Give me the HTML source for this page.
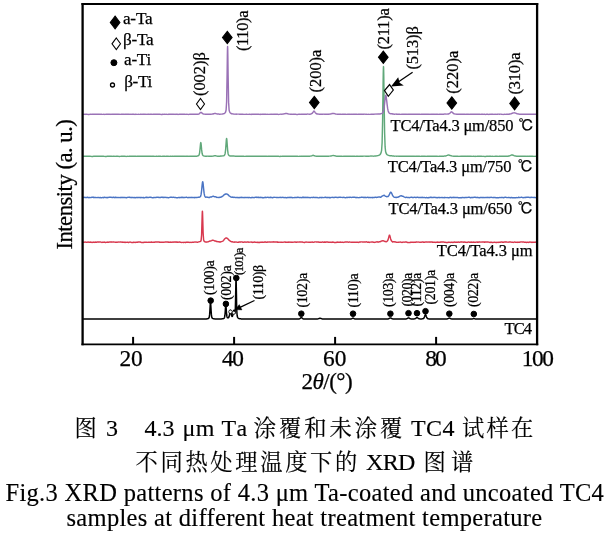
<!DOCTYPE html>
<html lang="zh"><head><meta charset="utf-8"><title>Fig.3 XRD patterns</title>
<style>
html,body{margin:0;padding:0;background:#fff;}
body{width:609px;height:535px;overflow:hidden;}
svg{display:block;}
text{font-family:"Liberation Serif","Noto Serif CJK SC",serif;fill:#000;stroke:#000;stroke-width:0.25px;}
</style></head><body>
<svg width="609" height="535" viewBox="0 0 609 535">
<rect x="0" y="0" width="609" height="535" fill="#fff"/>

<path d="M83.60 319.10 L83.85 319.10 L84.10 319.10 L84.35 319.10 L84.60 319.10 L84.85 319.10 L85.10 319.10 L85.35 319.10 L85.60 319.10 L85.85 319.10 L86.10 319.10 L86.35 319.10 L86.60 319.10 L86.85 319.10 L87.10 319.10 L87.35 319.10 L87.60 319.10 L87.85 319.10 L88.10 319.10 L88.35 319.10 L88.60 319.10 L88.85 319.10 L89.10 319.10 L89.35 319.10 L89.60 319.10 L89.85 319.10 L90.10 319.10 L90.35 319.10 L90.60 319.10 L90.85 319.10 L91.10 319.10 L91.35 319.10 L91.60 319.10 L91.85 319.10 L92.10 319.10 L92.35 319.10 L92.60 319.10 L92.85 319.10 L93.10 319.10 L93.35 319.10 L93.60 319.10 L93.85 319.10 L94.10 319.10 L94.35 319.10 L94.60 319.10 L94.85 319.10 L95.10 319.10 L95.35 319.10 L95.60 319.10 L95.85 319.10 L96.10 319.10 L96.35 319.10 L96.60 319.10 L96.85 319.10 L97.10 319.10 L97.35 319.10 L97.60 319.10 L97.85 319.10 L98.10 319.10 L98.35 319.10 L98.60 319.10 L98.85 319.10 L99.10 319.10 L99.35 319.10 L99.60 319.10 L99.85 319.10 L100.10 319.10 L100.35 319.10 L100.60 319.10 L100.85 319.10 L101.10 319.10 L101.35 319.10 L101.60 319.10 L101.85 319.10 L102.10 319.10 L102.35 319.10 L102.60 319.10 L102.85 319.10 L103.10 319.10 L103.35 319.10 L103.60 319.10 L103.85 319.10 L104.10 319.10 L104.35 319.10 L104.60 319.10 L104.85 319.10 L105.10 319.10 L105.35 319.10 L105.60 319.10 L105.85 319.10 L106.10 319.10 L106.35 319.10 L106.60 319.10 L106.85 319.10 L107.10 319.10 L107.35 319.10 L107.60 319.10 L107.85 319.10 L108.10 319.10 L108.35 319.10 L108.60 319.10 L108.85 319.10 L109.10 319.10 L109.35 319.10 L109.60 319.10 L109.85 319.10 L110.10 319.10 L110.35 319.10 L110.60 319.10 L110.85 319.10 L111.10 319.10 L111.35 319.10 L111.60 319.10 L111.85 319.10 L112.10 319.10 L112.35 319.10 L112.60 319.10 L112.85 319.10 L113.10 319.10 L113.35 319.10 L113.60 319.10 L113.85 319.10 L114.10 319.10 L114.35 319.10 L114.60 319.10 L114.85 319.10 L115.10 319.10 L115.35 319.10 L115.60 319.10 L115.85 319.10 L116.10 319.10 L116.35 319.10 L116.60 319.10 L116.85 319.10 L117.10 319.10 L117.35 319.10 L117.60 319.10 L117.85 319.10 L118.10 319.10 L118.35 319.10 L118.60 319.10 L118.85 319.10 L119.10 319.10 L119.35 319.10 L119.60 319.10 L119.85 319.10 L120.10 319.10 L120.35 319.10 L120.60 319.10 L120.85 319.10 L121.10 319.10 L121.35 319.10 L121.60 319.10 L121.85 319.10 L122.10 319.10 L122.35 319.10 L122.60 319.10 L122.85 319.10 L123.10 319.10 L123.35 319.10 L123.60 319.10 L123.85 319.10 L124.10 319.10 L124.35 319.10 L124.60 319.10 L124.85 319.10 L125.10 319.10 L125.35 319.10 L125.60 319.10 L125.85 319.10 L126.10 319.10 L126.35 319.10 L126.60 319.10 L126.85 319.10 L127.10 319.10 L127.35 319.10 L127.60 319.10 L127.85 319.10 L128.10 319.10 L128.35 319.10 L128.60 319.10 L128.85 319.10 L129.10 319.10 L129.35 319.10 L129.60 319.10 L129.85 319.10 L130.10 319.10 L130.35 319.10 L130.60 319.10 L130.85 319.10 L131.10 319.10 L131.35 319.10 L131.60 319.10 L131.85 319.10 L132.10 319.10 L132.35 319.10 L132.60 319.10 L132.85 319.10 L133.10 319.10 L133.35 319.10 L133.60 319.10 L133.85 319.10 L134.10 319.10 L134.35 319.10 L134.60 319.10 L134.85 319.10 L135.10 319.10 L135.35 319.10 L135.60 319.10 L135.85 319.10 L136.10 319.10 L136.35 319.10 L136.60 319.10 L136.85 319.10 L137.10 319.10 L137.35 319.10 L137.60 319.10 L137.85 319.10 L138.10 319.10 L138.35 319.10 L138.60 319.10 L138.85 319.10 L139.10 319.10 L139.35 319.10 L139.60 319.10 L139.85 319.10 L140.10 319.10 L140.35 319.10 L140.60 319.10 L140.85 319.10 L141.10 319.10 L141.35 319.10 L141.60 319.10 L141.85 319.10 L142.10 319.10 L142.35 319.10 L142.60 319.10 L142.85 319.10 L143.10 319.10 L143.35 319.10 L143.60 319.10 L143.85 319.10 L144.10 319.10 L144.35 319.10 L144.60 319.10 L144.85 319.10 L145.10 319.10 L145.35 319.10 L145.60 319.10 L145.85 319.10 L146.10 319.10 L146.35 319.10 L146.60 319.10 L146.85 319.10 L147.10 319.10 L147.35 319.10 L147.60 319.10 L147.85 319.10 L148.10 319.10 L148.35 319.10 L148.60 319.10 L148.85 319.10 L149.10 319.10 L149.35 319.10 L149.60 319.10 L149.85 319.10 L150.10 319.10 L150.35 319.10 L150.60 319.10 L150.85 319.10 L151.10 319.10 L151.35 319.10 L151.60 319.10 L151.85 319.10 L152.10 319.10 L152.35 319.10 L152.60 319.10 L152.85 319.10 L153.10 319.10 L153.35 319.10 L153.60 319.10 L153.85 319.10 L154.10 319.10 L154.35 319.10 L154.60 319.10 L154.85 319.10 L155.10 319.10 L155.35 319.10 L155.60 319.10 L155.85 319.10 L156.10 319.10 L156.35 319.10 L156.60 319.10 L156.85 319.10 L157.10 319.10 L157.35 319.10 L157.60 319.10 L157.85 319.10 L158.10 319.10 L158.35 319.10 L158.60 319.10 L158.85 319.10 L159.10 319.10 L159.35 319.10 L159.60 319.10 L159.85 319.10 L160.10 319.10 L160.35 319.10 L160.60 319.10 L160.85 319.10 L161.10 319.10 L161.35 319.10 L161.60 319.10 L161.85 319.10 L162.10 319.10 L162.35 319.10 L162.60 319.10 L162.85 319.10 L163.10 319.10 L163.35 319.10 L163.60 319.10 L163.85 319.10 L164.10 319.10 L164.35 319.10 L164.60 319.10 L164.85 319.10 L165.10 319.10 L165.35 319.10 L165.60 319.10 L165.85 319.10 L166.10 319.10 L166.35 319.10 L166.60 319.10 L166.85 319.10 L167.10 319.10 L167.35 319.10 L167.60 319.10 L167.85 319.10 L168.10 319.10 L168.35 319.10 L168.60 319.10 L168.85 319.10 L169.10 319.10 L169.35 319.10 L169.60 319.10 L169.85 319.10 L170.10 319.10 L170.35 319.10 L170.60 319.10 L170.85 319.10 L171.10 319.10 L171.35 319.10 L171.60 319.10 L171.85 319.10 L172.10 319.10 L172.35 319.10 L172.60 319.09 L172.85 319.09 L173.10 319.09 L173.35 319.09 L173.60 319.09 L173.85 319.09 L174.10 319.09 L174.35 319.09 L174.60 319.09 L174.85 319.09 L175.10 319.09 L175.35 319.09 L175.60 319.09 L175.85 319.09 L176.10 319.09 L176.35 319.09 L176.60 319.09 L176.85 319.09 L177.10 319.09 L177.35 319.09 L177.60 319.09 L177.85 319.09 L178.10 319.09 L178.35 319.09 L178.60 319.09 L178.85 319.09 L179.10 319.09 L179.35 319.09 L179.60 319.09 L179.85 319.09 L180.10 319.09 L180.35 319.09 L180.60 319.09 L180.85 319.09 L181.10 319.09 L181.35 319.09 L181.60 319.09 L181.85 319.09 L182.10 319.09 L182.35 319.09 L182.60 319.09 L182.85 319.09 L183.10 319.09 L183.35 319.09 L183.60 319.09 L183.85 319.09 L184.10 319.09 L184.35 319.09 L184.60 319.09 L184.85 319.09 L185.10 319.09 L185.35 319.09 L185.60 319.09 L185.85 319.09 L186.10 319.09 L186.35 319.09 L186.60 319.09 L186.85 319.09 L187.10 319.09 L187.35 319.09 L187.60 319.09 L187.85 319.09 L188.10 319.09 L188.35 319.09 L188.60 319.09 L188.85 319.09 L189.10 319.09 L189.35 319.09 L189.60 319.09 L189.85 319.09 L190.10 319.09 L190.35 319.09 L190.60 319.09 L190.85 319.09 L191.10 319.09 L191.35 319.09 L191.60 319.09 L191.85 319.08 L192.10 319.08 L192.35 319.08 L192.60 319.08 L192.85 319.08 L193.10 319.08 L193.35 319.08 L193.60 319.08 L193.85 319.08 L194.10 319.08 L194.35 319.08 L194.60 319.08 L194.85 319.08 L195.10 319.08 L195.35 319.08 L195.60 319.08 L195.85 319.08 L196.10 319.08 L196.35 319.08 L196.60 319.08 L196.85 319.08 L197.10 319.07 L197.35 319.07 L197.60 319.07 L197.85 319.07 L198.10 319.07 L198.35 319.07 L198.60 319.07 L198.85 319.07 L199.10 319.07 L199.35 319.07 L199.60 319.06 L199.85 319.06 L200.10 319.06 L200.35 319.06 L200.60 319.06 L200.85 319.06 L201.10 319.05 L201.35 319.05 L201.60 319.05 L201.85 319.05 L202.10 319.05 L202.35 319.04 L202.60 319.04 L202.85 319.04 L203.10 319.03 L203.35 319.03 L203.60 319.02 L203.85 319.02 L204.10 319.01 L204.35 319.01 L204.60 319.00 L204.85 318.99 L205.10 318.98 L205.35 318.97 L205.60 318.96 L205.85 318.95 L206.10 318.93 L206.35 318.91 L206.60 318.89 L206.85 318.86 L207.10 318.83 L207.35 318.79 L207.60 318.73 L207.85 318.67 L208.10 318.58 L208.35 318.47 L208.60 318.30 L208.85 318.04 L209.10 317.57 L209.35 316.59 L209.60 314.68 L209.85 311.40 L210.10 306.95 L210.25 304.30 L210.35 302.94 L210.38 302.64 L210.50 302.08 L210.60 302.47 L210.62 302.64 L210.75 304.30 L210.85 306.02 L211.10 310.58 L211.35 314.13 L211.60 316.30 L211.85 317.42 L212.10 317.96 L212.35 318.25 L212.60 318.43 L212.85 318.55 L213.10 318.64 L213.35 318.71 L213.60 318.76 L213.85 318.80 L214.10 318.83 L214.35 318.86 L214.60 318.88 L214.85 318.90 L215.10 318.92 L215.35 318.93 L215.60 318.94 L215.85 318.95 L216.10 318.96 L216.35 318.96 L216.60 318.97 L216.85 318.97 L217.10 318.97 L217.35 318.97 L217.60 318.98 L217.85 318.98 L218.10 318.98 L218.35 318.98 L218.60 318.98 L218.85 318.97 L219.10 318.97 L219.35 318.97 L219.60 318.96 L219.85 318.96 L220.10 318.95 L220.35 318.95 L220.60 318.94 L220.85 318.93 L221.10 318.92 L221.35 318.90 L221.60 318.89 L221.85 318.87 L222.10 318.85 L222.35 318.82 L222.60 318.78 L222.85 318.74 L223.10 318.69 L223.35 318.61 L223.60 318.52 L223.85 318.39 L224.10 318.19 L224.35 317.84 L224.60 317.14 L224.85 315.73 L225.10 313.26 L225.35 309.71 L225.55 306.74 L225.60 306.13 L225.68 305.36 L225.80 304.89 L225.85 304.96 L225.92 305.33 L226.05 306.69 L226.10 307.36 L226.35 311.10 L226.60 314.21 L226.85 316.16 L227.10 317.17 L227.35 317.62 L227.60 317.81 L227.85 317.87 L228.10 317.86 L228.35 317.78 L228.60 317.59 L228.85 317.22 L229.10 316.58 L229.35 315.57 L229.60 314.18 L229.85 312.55 L230.10 311.06 L230.15 310.82 L230.28 310.38 L230.35 310.25 L230.40 310.21 L230.52 310.31 L230.60 310.51 L230.65 310.69 L230.85 311.67 L231.10 313.16 L231.35 314.55 L231.60 315.58 L231.80 316.11 L231.85 316.20 L232.10 316.45 L232.35 316.36 L232.60 315.91 L232.85 315.07 L233.10 313.85 L233.35 312.40 L233.60 311.05 L233.65 310.83 L233.78 310.41 L233.85 310.29 L233.90 310.25 L234.02 310.32 L234.10 310.48 L234.15 310.62 L234.35 311.40 L234.60 312.48 L234.85 313.08 L235.10 312.23 L235.35 307.98 L235.60 298.03 L235.80 286.83 L235.85 284.16 L235.93 280.65 L236.05 278.44 L236.10 278.88 L236.17 280.79 L236.30 287.13 L236.35 290.04 L236.60 303.54 L236.85 311.68 L237.10 315.22 L237.35 316.63 L237.60 317.31 L237.85 317.72 L238.10 318.01 L238.35 318.21 L238.60 318.36 L238.85 318.48 L239.10 318.57 L239.35 318.64 L239.60 318.70 L239.85 318.75 L240.10 318.78 L240.35 318.82 L240.60 318.84 L240.85 318.87 L241.10 318.89 L241.35 318.91 L241.60 318.92 L241.85 318.93 L242.10 318.95 L242.35 318.96 L242.60 318.97 L242.85 318.97 L243.10 318.98 L243.35 318.99 L243.60 319.00 L243.85 319.00 L244.10 319.01 L244.35 319.01 L244.60 319.02 L244.85 319.02 L245.10 319.02 L245.35 319.03 L245.60 319.03 L245.85 319.03 L246.10 319.04 L246.35 319.04 L246.60 319.04 L246.85 319.04 L247.10 319.05 L247.35 319.05 L247.60 319.05 L247.85 319.05 L248.10 319.05 L248.35 319.05 L248.60 319.06 L248.85 319.06 L249.10 319.06 L249.35 319.06 L249.60 319.06 L249.85 319.06 L250.10 319.06 L250.35 319.06 L250.60 319.07 L250.85 319.07 L251.10 319.07 L251.35 319.07 L251.60 319.07 L251.85 319.07 L252.10 319.07 L252.35 319.07 L252.60 319.07 L252.85 319.07 L253.10 319.07 L253.35 319.07 L253.60 319.07 L253.85 319.08 L254.10 319.08 L254.35 319.08 L254.60 319.08 L254.85 319.08 L255.10 319.08 L255.35 319.08 L255.60 319.08 L255.85 319.08 L256.10 319.08 L256.35 319.08 L256.60 319.08 L256.85 319.08 L257.10 319.08 L257.35 319.08 L257.60 319.08 L257.85 319.08 L258.10 319.08 L258.35 319.08 L258.60 319.08 L258.85 319.08 L259.10 319.08 L259.35 319.08 L259.60 319.08 L259.85 319.08 L260.10 319.08 L260.35 319.09 L260.60 319.09 L260.85 319.09 L261.10 319.09 L261.35 319.09 L261.60 319.09 L261.85 319.09 L262.10 319.09 L262.35 319.09 L262.60 319.09 L262.85 319.09 L263.10 319.09 L263.35 319.09 L263.60 319.09 L263.85 319.09 L264.10 319.09 L264.35 319.09 L264.60 319.09 L264.85 319.09 L265.10 319.09 L265.35 319.09 L265.60 319.09 L265.85 319.09 L266.10 319.09 L266.35 319.09 L266.60 319.09 L266.85 319.09 L267.10 319.09 L267.35 319.09 L267.60 319.09 L267.85 319.09 L268.10 319.09 L268.35 319.09 L268.60 319.09 L268.85 319.09 L269.10 319.09 L269.35 319.09 L269.60 319.09 L269.85 319.09 L270.10 319.09 L270.35 319.09 L270.60 319.09 L270.85 319.09 L271.10 319.09 L271.35 319.09 L271.60 319.09 L271.85 319.09 L272.10 319.09 L272.35 319.09 L272.60 319.09 L272.85 319.09 L273.10 319.09 L273.35 319.09 L273.60 319.09 L273.85 319.09 L274.10 319.09 L274.35 319.09 L274.60 319.09 L274.85 319.09 L275.10 319.09 L275.35 319.09 L275.60 319.09 L275.85 319.09 L276.10 319.09 L276.35 319.09 L276.60 319.09 L276.85 319.09 L277.10 319.09 L277.35 319.09 L277.60 319.09 L277.85 319.09 L278.10 319.09 L278.35 319.09 L278.60 319.09 L278.85 319.09 L279.10 319.09 L279.35 319.09 L279.60 319.09 L279.85 319.09 L280.10 319.09 L280.35 319.09 L280.60 319.09 L280.85 319.09 L281.10 319.09 L281.35 319.09 L281.60 319.09 L281.85 319.09 L282.10 319.09 L282.35 319.09 L282.60 319.09 L282.85 319.09 L283.10 319.09 L283.35 319.09 L283.60 319.09 L283.85 319.09 L284.10 319.09 L284.35 319.09 L284.60 319.09 L284.85 319.09 L285.10 319.09 L285.35 319.09 L285.60 319.09 L285.85 319.09 L286.10 319.09 L286.35 319.09 L286.60 319.09 L286.85 319.09 L287.10 319.09 L287.35 319.09 L287.60 319.09 L287.85 319.09 L288.10 319.09 L288.35 319.09 L288.60 319.09 L288.85 319.09 L289.10 319.09 L289.35 319.09 L289.60 319.09 L289.85 319.09 L290.10 319.09 L290.35 319.09 L290.60 319.09 L290.85 319.09 L291.10 319.09 L291.35 319.09 L291.60 319.09 L291.85 319.09 L292.10 319.09 L292.35 319.09 L292.60 319.08 L292.85 319.08 L293.10 319.08 L293.35 319.08 L293.60 319.08 L293.85 319.08 L294.10 319.08 L294.35 319.08 L294.60 319.08 L294.85 319.08 L295.10 319.07 L295.35 319.07 L295.60 319.07 L295.85 319.07 L296.10 319.07 L296.35 319.06 L296.60 319.06 L296.85 319.06 L297.10 319.05 L297.35 319.05 L297.60 319.04 L297.85 319.03 L298.10 319.02 L298.35 319.01 L298.60 318.99 L298.85 318.97 L299.10 318.93 L299.35 318.87 L299.60 318.78 L299.85 318.65 L300.10 318.47 L300.35 318.25 L300.60 317.99 L300.85 317.73 L301.05 317.58 L301.10 317.55 L301.18 317.51 L301.30 317.49 L301.35 317.50 L301.42 317.51 L301.55 317.58 L301.60 317.61 L301.85 317.83 L302.10 318.09 L302.35 318.34 L302.60 318.55 L302.85 318.71 L303.10 318.82 L303.35 318.90 L303.60 318.95 L303.85 318.98 L304.10 319.00 L304.35 319.01 L304.60 319.03 L304.85 319.03 L305.10 319.04 L305.35 319.05 L305.60 319.05 L305.85 319.06 L306.10 319.06 L306.35 319.06 L306.60 319.06 L306.85 319.07 L307.10 319.07 L307.35 319.07 L307.60 319.07 L307.85 319.07 L308.10 319.07 L308.35 319.07 L308.60 319.08 L308.85 319.08 L309.10 319.08 L309.35 319.08 L309.60 319.08 L309.85 319.08 L310.10 319.08 L310.35 319.08 L310.60 319.08 L310.85 319.08 L311.10 319.08 L311.35 319.08 L311.60 319.08 L311.85 319.08 L312.10 319.08 L312.35 319.08 L312.60 319.08 L312.85 319.07 L313.10 319.07 L313.35 319.07 L313.60 319.07 L313.85 319.07 L314.10 319.07 L314.35 319.07 L314.60 319.06 L314.85 319.06 L315.10 319.06 L315.35 319.06 L315.60 319.05 L315.85 319.05 L316.10 319.04 L316.35 319.03 L316.60 319.02 L316.85 319.00 L317.10 318.98 L317.35 318.95 L317.60 318.91 L317.85 318.87 L318.10 318.81 L318.35 318.74 L318.60 318.66 L318.85 318.58 L319.10 318.49 L319.35 318.41 L319.60 318.34 L319.85 318.30 L320.00 318.30 L320.10 318.30 L320.35 318.33 L320.60 318.39 L320.85 318.47 L321.10 318.56 L321.35 318.65 L321.60 318.73 L321.85 318.80 L322.10 318.86 L322.35 318.91 L322.60 318.95 L322.85 318.98 L323.10 319.00 L323.35 319.02 L323.60 319.03 L323.85 319.04 L324.10 319.05 L324.35 319.05 L324.60 319.06 L324.85 319.06 L325.10 319.06 L325.35 319.07 L325.60 319.07 L325.85 319.07 L326.10 319.07 L326.35 319.07 L326.60 319.08 L326.85 319.08 L327.10 319.08 L327.35 319.08 L327.60 319.08 L327.85 319.08 L328.10 319.08 L328.35 319.08 L328.60 319.08 L328.85 319.08 L329.10 319.09 L329.35 319.09 L329.60 319.09 L329.85 319.09 L330.10 319.09 L330.35 319.09 L330.60 319.09 L330.85 319.09 L331.10 319.09 L331.35 319.09 L331.60 319.09 L331.85 319.09 L332.10 319.09 L332.35 319.09 L332.60 319.09 L332.85 319.09 L333.10 319.09 L333.35 319.09 L333.60 319.09 L333.85 319.09 L334.10 319.09 L334.35 319.09 L334.60 319.09 L334.85 319.09 L335.10 319.09 L335.35 319.09 L335.60 319.09 L335.85 319.09 L336.10 319.09 L336.35 319.09 L336.60 319.09 L336.85 319.09 L337.10 319.09 L337.35 319.09 L337.60 319.09 L337.85 319.09 L338.10 319.09 L338.35 319.09 L338.60 319.09 L338.85 319.09 L339.10 319.09 L339.35 319.09 L339.60 319.09 L339.85 319.09 L340.10 319.09 L340.35 319.09 L340.60 319.09 L340.85 319.09 L341.10 319.09 L341.35 319.09 L341.60 319.09 L341.85 319.09 L342.10 319.09 L342.35 319.09 L342.60 319.09 L342.85 319.09 L343.10 319.09 L343.35 319.09 L343.60 319.09 L343.85 319.09 L344.10 319.09 L344.35 319.09 L344.60 319.09 L344.85 319.09 L345.10 319.09 L345.35 319.09 L345.60 319.09 L345.85 319.09 L346.10 319.09 L346.35 319.08 L346.60 319.08 L346.85 319.08 L347.10 319.08 L347.35 319.08 L347.60 319.08 L347.85 319.08 L348.10 319.08 L348.35 319.07 L348.60 319.07 L348.85 319.07 L349.10 319.07 L349.35 319.06 L349.60 319.06 L349.85 319.05 L350.10 319.04 L350.35 319.03 L350.60 319.01 L350.85 318.99 L351.10 318.95 L351.35 318.89 L351.60 318.80 L351.85 318.68 L352.10 318.53 L352.35 318.37 L352.60 318.22 L352.75 318.15 L352.85 318.12 L352.88 318.11 L353.00 318.10 L353.10 318.10 L353.12 318.11 L353.25 318.15 L353.35 318.19 L353.60 318.34 L353.85 318.50 L354.10 318.65 L354.35 318.78 L354.60 318.87 L354.85 318.94 L355.10 318.98 L355.35 319.01 L355.60 319.03 L355.85 319.04 L356.10 319.05 L356.35 319.06 L356.60 319.06 L356.85 319.06 L357.10 319.07 L357.35 319.07 L357.60 319.07 L357.85 319.08 L358.10 319.08 L358.35 319.08 L358.60 319.08 L358.85 319.08 L359.10 319.08 L359.35 319.08 L359.60 319.08 L359.85 319.09 L360.10 319.09 L360.35 319.09 L360.60 319.09 L360.85 319.09 L361.10 319.09 L361.35 319.09 L361.60 319.09 L361.85 319.09 L362.10 319.09 L362.35 319.09 L362.60 319.09 L362.85 319.09 L363.10 319.09 L363.35 319.09 L363.60 319.09 L363.85 319.09 L364.10 319.09 L364.35 319.09 L364.60 319.09 L364.85 319.09 L365.10 319.09 L365.35 319.09 L365.60 319.09 L365.85 319.09 L366.10 319.09 L366.35 319.09 L366.60 319.09 L366.85 319.09 L367.10 319.09 L367.35 319.09 L367.60 319.09 L367.85 319.09 L368.10 319.09 L368.35 319.09 L368.60 319.09 L368.85 319.09 L369.10 319.09 L369.35 319.09 L369.60 319.09 L369.85 319.09 L370.10 319.09 L370.35 319.09 L370.60 319.09 L370.85 319.09 L371.10 319.09 L371.35 319.09 L371.60 319.09 L371.85 319.09 L372.10 319.09 L372.35 319.09 L372.60 319.09 L372.85 319.09 L373.10 319.09 L373.35 319.09 L373.60 319.09 L373.85 319.09 L374.10 319.09 L374.35 319.09 L374.60 319.09 L374.85 319.09 L375.10 319.09 L375.35 319.09 L375.60 319.09 L375.85 319.09 L376.10 319.09 L376.35 319.09 L376.60 319.09 L376.85 319.09 L377.10 319.09 L377.35 319.09 L377.60 319.09 L377.85 319.09 L378.10 319.09 L378.35 319.09 L378.60 319.09 L378.85 319.09 L379.10 319.09 L379.35 319.09 L379.60 319.09 L379.85 319.09 L380.10 319.09 L380.35 319.09 L380.60 319.09 L380.85 319.08 L381.10 319.08 L381.35 319.08 L381.60 319.08 L381.85 319.08 L382.10 319.08 L382.35 319.08 L382.60 319.08 L382.85 319.08 L383.10 319.08 L383.35 319.08 L383.60 319.07 L383.85 319.07 L384.10 319.07 L384.35 319.07 L384.60 319.07 L384.85 319.07 L385.10 319.06 L385.35 319.06 L385.60 319.06 L385.85 319.05 L386.10 319.05 L386.35 319.04 L386.60 319.03 L386.85 319.03 L387.10 319.01 L387.35 319.00 L387.60 318.98 L387.85 318.94 L388.10 318.90 L388.35 318.84 L388.60 318.76 L388.85 318.65 L389.10 318.52 L389.35 318.37 L389.60 318.22 L389.85 318.07 L390.10 317.95 L390.15 317.93 L390.28 317.90 L390.35 317.89 L390.40 317.89 L390.52 317.90 L390.60 317.92 L390.65 317.93 L390.85 318.01 L391.10 318.15 L391.35 318.31 L391.60 318.46 L391.85 318.60 L392.10 318.71 L392.35 318.81 L392.60 318.87 L392.85 318.92 L393.10 318.96 L393.35 318.99 L393.60 319.00 L393.85 319.02 L394.10 319.03 L394.35 319.03 L394.60 319.04 L394.85 319.04 L395.10 319.05 L395.35 319.05 L395.60 319.06 L395.85 319.06 L396.10 319.06 L396.35 319.06 L396.60 319.06 L396.85 319.06 L397.10 319.07 L397.35 319.07 L397.60 319.07 L397.85 319.07 L398.10 319.07 L398.35 319.07 L398.60 319.07 L398.85 319.07 L399.10 319.07 L399.35 319.07 L399.60 319.07 L399.85 319.07 L400.10 319.07 L400.35 319.07 L400.60 319.07 L400.85 319.07 L401.10 319.07 L401.35 319.06 L401.60 319.06 L401.85 319.06 L402.10 319.06 L402.35 319.06 L402.60 319.06 L402.85 319.05 L403.10 319.05 L403.35 319.05 L403.60 319.05 L403.85 319.04 L404.10 319.04 L404.35 319.03 L404.60 319.02 L404.85 319.02 L405.10 319.01 L405.35 318.99 L405.60 318.97 L405.85 318.94 L406.10 318.90 L406.35 318.85 L406.60 318.78 L406.85 318.68 L407.10 318.56 L407.35 318.42 L407.60 318.26 L407.85 318.10 L408.10 317.97 L408.25 317.91 L408.35 317.89 L408.38 317.88 L408.50 317.87 L408.60 317.88 L408.62 317.88 L408.75 317.91 L408.85 317.95 L409.10 318.07 L409.35 318.22 L409.60 318.38 L409.85 318.52 L410.10 318.64 L410.35 318.74 L410.60 318.82 L410.85 318.87 L411.10 318.91 L411.35 318.94 L411.60 318.95 L411.85 318.97 L412.10 318.97 L412.35 318.98 L412.60 318.98 L412.85 318.97 L413.10 318.97 L413.35 318.96 L413.60 318.95 L413.85 318.94 L414.10 318.92 L414.35 318.88 L414.60 318.84 L414.85 318.77 L415.10 318.68 L415.35 318.56 L415.60 318.41 L415.85 318.23 L416.10 318.04 L416.35 317.84 L416.60 317.68 L416.75 317.60 L416.85 317.57 L416.88 317.57 L417.00 317.55 L417.10 317.56 L417.12 317.56 L417.25 317.60 L417.35 317.65 L417.60 317.80 L417.85 317.99 L418.10 318.19 L418.35 318.36 L418.60 318.52 L418.85 318.64 L419.10 318.73 L419.35 318.80 L419.60 318.85 L419.85 318.88 L420.10 318.90 L420.35 318.91 L420.60 318.92 L420.85 318.92 L421.10 318.92 L421.35 318.91 L421.60 318.90 L421.85 318.89 L422.10 318.87 L422.35 318.85 L422.60 318.81 L422.85 318.76 L423.10 318.69 L423.35 318.57 L423.60 318.39 L423.85 318.12 L424.10 317.73 L424.35 317.20 L424.60 316.55 L424.85 315.81 L425.10 315.12 L425.25 314.80 L425.35 314.66 L425.38 314.63 L425.50 314.58 L425.60 314.62 L425.62 314.63 L425.75 314.81 L425.85 315.01 L426.10 315.67 L426.35 316.41 L426.60 317.09 L426.85 317.65 L427.10 318.07 L427.35 318.37 L427.60 318.56 L427.85 318.69 L428.10 318.77 L428.35 318.83 L428.60 318.87 L428.85 318.90 L429.10 318.93 L429.35 318.94 L429.60 318.96 L429.85 318.97 L430.10 318.99 L430.35 319.00 L430.60 319.01 L430.85 319.01 L431.10 319.02 L431.35 319.03 L431.60 319.03 L431.85 319.03 L432.10 319.04 L432.35 319.04 L432.60 319.05 L432.85 319.05 L433.10 319.05 L433.35 319.05 L433.60 319.06 L433.85 319.06 L434.10 319.06 L434.35 319.06 L434.60 319.06 L434.85 319.06 L435.10 319.07 L435.35 319.07 L435.60 319.07 L435.85 319.07 L436.10 319.07 L436.35 319.07 L436.60 319.07 L436.85 319.07 L437.10 319.07 L437.35 319.07 L437.60 319.07 L437.85 319.07 L438.10 319.07 L438.35 319.08 L438.60 319.08 L438.85 319.08 L439.10 319.08 L439.35 319.08 L439.60 319.08 L439.85 319.08 L440.10 319.08 L440.35 319.08 L440.60 319.08 L440.85 319.08 L441.10 319.08 L441.35 319.08 L441.60 319.07 L441.85 319.07 L442.10 319.07 L442.35 319.07 L442.60 319.07 L442.85 319.07 L443.10 319.07 L443.35 319.07 L443.60 319.07 L443.85 319.06 L444.10 319.06 L444.35 319.06 L444.60 319.06 L444.85 319.05 L445.10 319.05 L445.35 319.05 L445.60 319.04 L445.85 319.03 L446.10 319.02 L446.35 319.01 L446.60 318.98 L446.85 318.95 L447.10 318.91 L447.35 318.85 L447.60 318.78 L447.85 318.68 L448.10 318.57 L448.35 318.44 L448.60 318.31 L448.85 318.19 L449.05 318.13 L449.10 318.11 L449.18 318.10 L449.30 318.09 L449.35 318.09 L449.42 318.10 L449.55 318.13 L449.60 318.14 L449.85 318.24 L450.10 318.36 L450.35 318.49 L450.60 318.62 L450.85 318.72 L451.10 318.81 L451.35 318.88 L451.60 318.93 L451.85 318.97 L452.10 319.00 L452.35 319.01 L452.60 319.03 L452.85 319.04 L453.10 319.04 L453.35 319.05 L453.60 319.06 L453.85 319.06 L454.10 319.06 L454.35 319.07 L454.60 319.07 L454.85 319.07 L455.10 319.07 L455.35 319.07 L455.60 319.08 L455.85 319.08 L456.10 319.08 L456.35 319.08 L456.60 319.08 L456.85 319.08 L457.10 319.08 L457.35 319.08 L457.60 319.08 L457.85 319.08 L458.10 319.09 L458.35 319.09 L458.60 319.09 L458.85 319.09 L459.10 319.09 L459.35 319.09 L459.60 319.09 L459.85 319.09 L460.10 319.09 L460.35 319.09 L460.60 319.09 L460.85 319.09 L461.10 319.09 L461.35 319.09 L461.60 319.09 L461.85 319.09 L462.10 319.09 L462.35 319.09 L462.60 319.09 L462.85 319.09 L463.10 319.09 L463.35 319.09 L463.60 319.09 L463.85 319.09 L464.10 319.09 L464.35 319.09 L464.60 319.09 L464.85 319.09 L465.10 319.09 L465.35 319.09 L465.60 319.09 L465.85 319.09 L466.10 319.09 L466.35 319.09 L466.60 319.09 L466.85 319.09 L467.10 319.09 L467.35 319.09 L467.60 319.09 L467.85 319.09 L468.10 319.09 L468.35 319.09 L468.60 319.08 L468.85 319.08 L469.10 319.08 L469.35 319.08 L469.60 319.08 L469.85 319.08 L470.10 319.08 L470.35 319.07 L470.60 319.07 L470.85 319.06 L471.10 319.06 L471.35 319.05 L471.60 319.03 L471.85 319.01 L472.10 318.98 L472.35 318.93 L472.60 318.86 L472.85 318.78 L473.10 318.68 L473.35 318.59 L473.55 318.53 L473.60 318.52 L473.68 318.50 L473.80 318.50 L473.85 318.50 L473.92 318.50 L474.05 318.53 L474.10 318.54 L474.35 318.62 L474.60 318.72 L474.85 318.81 L475.10 318.89 L475.35 318.95 L475.60 318.99 L475.85 319.02 L476.10 319.04 L476.35 319.05 L476.60 319.06 L476.85 319.07 L477.10 319.07 L477.35 319.08 L477.60 319.08 L477.85 319.08 L478.10 319.08 L478.35 319.08 L478.60 319.08 L478.85 319.09 L479.10 319.09 L479.35 319.09 L479.60 319.09 L479.85 319.09 L480.10 319.09 L480.35 319.09 L480.60 319.09 L480.85 319.09 L481.10 319.09 L481.35 319.09 L481.60 319.09 L481.85 319.09 L482.10 319.09 L482.35 319.09 L482.60 319.09 L482.85 319.09 L483.10 319.09 L483.35 319.09 L483.60 319.09 L483.85 319.09 L484.10 319.10 L484.35 319.10 L484.60 319.10 L484.85 319.10 L485.10 319.10 L485.35 319.10 L485.60 319.10 L485.85 319.10 L486.10 319.10 L486.35 319.10 L486.60 319.10 L486.85 319.10 L487.10 319.10 L487.35 319.10 L487.60 319.10 L487.85 319.10 L488.10 319.10 L488.35 319.10 L488.60 319.10 L488.85 319.10 L489.10 319.10 L489.35 319.10 L489.60 319.10 L489.85 319.10 L490.10 319.10 L490.35 319.10 L490.60 319.10 L490.85 319.10 L491.10 319.10 L491.35 319.10 L491.60 319.10 L491.85 319.10 L492.10 319.10 L492.35 319.10 L492.60 319.10 L492.85 319.10 L493.10 319.10 L493.35 319.10 L493.60 319.10 L493.85 319.10 L494.10 319.10 L494.35 319.10 L494.60 319.10 L494.85 319.10 L495.10 319.10 L495.35 319.10 L495.60 319.10 L495.85 319.10 L496.10 319.10 L496.35 319.10 L496.60 319.10 L496.85 319.10 L497.10 319.10 L497.35 319.10 L497.60 319.10 L497.85 319.10 L498.10 319.10 L498.35 319.10 L498.60 319.10 L498.85 319.10 L499.10 319.10 L499.35 319.10 L499.60 319.10 L499.85 319.10 L500.10 319.10 L500.35 319.10 L500.60 319.10 L500.85 319.10 L501.10 319.10 L501.35 319.10 L501.60 319.10 L501.85 319.10 L502.10 319.10 L502.35 319.10 L502.60 319.10 L502.85 319.10 L503.10 319.10 L503.35 319.10 L503.60 319.10 L503.85 319.10 L504.10 319.10 L504.35 319.10 L504.60 319.10 L504.85 319.10 L505.10 319.10 L505.35 319.10 L505.60 319.10 L505.85 319.10 L506.10 319.10 L506.35 319.10 L506.60 319.10 L506.85 319.10 L507.10 319.10 L507.35 319.10 L507.60 319.10 L507.85 319.10 L508.10 319.10 L508.35 319.10 L508.60 319.10 L508.85 319.10 L509.10 319.10 L509.35 319.10 L509.60 319.10 L509.85 319.10 L510.10 319.10 L510.35 319.10 L510.60 319.10 L510.85 319.10 L511.10 319.10 L511.35 319.10 L511.60 319.10 L511.85 319.10 L512.10 319.10 L512.35 319.10 L512.60 319.10 L512.85 319.10 L513.10 319.10 L513.35 319.10 L513.60 319.10 L513.85 319.10 L514.10 319.10 L514.35 319.10 L514.60 319.10 L514.85 319.10 L515.10 319.10 L515.35 319.10 L515.60 319.10 L515.85 319.10 L516.10 319.10 L516.35 319.10 L516.60 319.10 L516.85 319.10 L517.10 319.10 L517.35 319.10 L517.60 319.10 L517.85 319.10 L518.10 319.10 L518.35 319.10 L518.60 319.10 L518.85 319.10 L519.10 319.10 L519.35 319.10 L519.60 319.10 L519.85 319.10 L520.10 319.10 L520.35 319.10 L520.60 319.10 L520.85 319.10 L521.10 319.10 L521.35 319.10 L521.60 319.10 L521.85 319.10 L522.10 319.10 L522.35 319.10 L522.60 319.10 L522.85 319.10 L523.10 319.10 L523.35 319.10 L523.60 319.10 L523.85 319.10 L524.10 319.10 L524.35 319.10 L524.60 319.10 L524.85 319.10 L525.10 319.10 L525.35 319.10 L525.60 319.10 L525.85 319.10 L526.10 319.10 L526.35 319.10 L526.60 319.10 L526.85 319.10 L527.10 319.10 L527.35 319.10 L527.60 319.10 L527.85 319.10 L528.10 319.10 L528.35 319.10 L528.60 319.10 L528.85 319.10 L529.10 319.10 L529.35 319.10 L529.60 319.10 L529.85 319.10 L530.10 319.10 L530.35 319.10 L530.60 319.10 L530.85 319.10 L531.10 319.10 L531.35 319.10 L531.60 319.10 L531.85 319.10 L532.10 319.10 L532.35 319.10 L532.60 319.10 L532.85 319.10 L533.10 319.10 L533.35 319.10 L533.60 319.10 L533.85 319.10 L534.10 319.10 L534.35 319.10 L534.60 319.10 L534.85 319.10 L535.10 319.10 L535.35 319.10 L535.60 319.10 L535.85 319.10 L536.10 319.10" fill="none" stroke="#000" stroke-width="1.5" stroke-linejoin="round" stroke-linecap="round"/>
<path d="M83.60 242.25 L84.10 242.23 L84.60 242.11 L85.10 242.02 L85.60 242.14 L86.10 242.26 L86.60 242.37 L87.10 242.34 L87.60 242.15 L88.10 241.98 L88.60 242.17 L89.10 242.14 L89.60 242.26 L90.10 242.04 L90.60 242.24 L91.10 242.15 L91.60 242.32 L92.10 242.44 L92.60 242.34 L93.10 242.07 L93.60 242.30 L94.10 242.25 L94.60 242.40 L95.10 242.21 L95.60 242.07 L96.10 242.27 L96.60 242.18 L97.10 242.04 L97.60 242.04 L98.10 242.15 L98.60 241.95 L99.10 242.06 L99.60 242.09 L100.10 242.14 L100.60 241.99 L101.10 242.17 L101.60 242.32 L102.10 242.44 L102.60 242.26 L103.10 242.33 L103.60 242.23 L104.10 242.33 L104.60 242.08 L105.10 242.29 L105.60 242.46 L106.10 242.35 L106.60 242.30 L107.10 242.27 L107.60 242.26 L108.10 242.02 L108.60 242.30 L109.10 242.14 L109.60 242.02 L110.10 241.91 L110.60 241.92 L111.10 242.17 L111.60 241.97 L112.10 241.88 L112.60 242.10 L113.10 242.00 L113.60 241.86 L114.10 242.04 L114.60 242.14 L115.10 242.17 L115.60 242.27 L116.10 242.07 L116.60 242.28 L117.10 242.35 L117.60 242.08 L118.10 241.96 L118.60 242.05 L119.10 242.11 L119.60 242.05 L120.10 241.94 L120.60 242.00 L121.10 241.92 L121.60 242.07 L122.10 242.28 L122.60 242.09 L123.10 242.17 L123.60 242.29 L124.10 242.10 L124.60 242.29 L125.10 242.45 L125.60 242.30 L126.10 242.22 L126.60 242.37 L127.10 242.31 L127.60 242.22 L128.10 242.41 L128.60 242.45 L129.10 242.28 L129.60 242.13 L130.10 242.08 L130.60 242.10 L131.10 242.36 L131.60 242.43 L132.10 242.52 L132.60 242.53 L133.10 242.56 L133.60 242.21 L134.10 242.21 L134.60 242.41 L135.10 242.52 L135.60 242.28 L136.10 242.21 L136.60 242.27 L137.10 242.18 L137.60 242.20 L138.10 242.01 L138.60 242.05 L139.10 242.11 L139.60 241.93 L140.10 241.88 L140.60 242.22 L141.10 242.33 L141.60 242.47 L142.10 242.42 L142.60 242.47 L143.10 242.53 L143.60 242.57 L144.10 242.21 L144.60 242.27 L145.10 242.14 L145.60 242.24 L146.10 242.12 L146.60 242.17 L147.10 242.37 L147.60 242.36 L148.10 242.18 L148.60 242.20 L149.10 242.17 L149.60 242.38 L150.10 242.21 L150.60 242.12 L151.10 242.22 L151.60 242.04 L152.10 242.14 L152.60 242.37 L153.10 242.31 L153.60 242.16 L154.10 242.16 L154.60 242.19 L155.10 242.04 L155.60 241.93 L156.10 241.87 L156.60 241.91 L157.10 241.98 L157.60 241.97 L158.10 241.95 L158.60 241.86 L159.10 242.02 L159.60 242.24 L160.10 242.27 L160.60 242.27 L161.10 242.31 L161.60 242.13 L162.10 242.25 L162.60 242.21 L163.10 242.23 L163.60 242.27 L164.10 242.22 L164.60 242.13 L165.10 242.04 L165.60 241.98 L166.10 242.07 L166.60 242.07 L167.10 242.16 L167.60 241.95 L168.10 241.98 L168.60 242.23 L169.10 242.10 L169.60 242.16 L170.10 242.17 L170.60 242.08 L171.10 242.35 L171.60 242.19 L172.10 242.32 L172.60 242.11 L173.10 241.95 L173.60 242.21 L174.10 242.18 L174.60 241.99 L175.10 242.02 L175.60 242.06 L176.10 242.22 L176.60 242.03 L177.10 241.97 L177.60 242.27 L178.10 242.34 L178.60 242.13 L179.10 242.08 L179.60 242.06 L180.10 242.19 L180.60 242.24 L181.10 242.38 L181.60 242.45 L182.10 242.35 L182.60 242.39 L183.10 242.42 L183.60 242.44 L184.10 242.33 L184.60 242.40 L185.10 242.41 L185.60 242.50 L186.10 242.21 L186.60 242.36 L187.10 242.07 L187.60 242.23 L188.10 242.25 L188.60 242.22 L189.10 242.41 L189.60 242.35 L190.10 242.24 L190.60 242.34 L191.10 242.44 L191.60 242.38 L192.10 242.24 L192.60 242.19 L193.10 242.15 L193.60 242.25 L194.10 242.12 L194.60 242.08 L195.10 242.12 L195.60 242.07 L196.10 242.01 L196.60 242.17 L197.10 242.29 L197.60 242.19 L198.10 242.09 L198.60 241.89 L199.10 241.80 L199.60 241.61 L200.10 241.60 L200.60 241.41 L201.10 240.36 L201.60 235.04 L202.10 217.86 L202.15 216.05 L202.28 212.41 L202.40 211.17 L202.52 212.40 L202.60 214.42 L202.65 216.04 L203.10 232.49 L203.60 239.82 L204.10 241.19 L204.60 241.55 L205.10 241.91 L205.60 242.05 L206.10 242.00 L206.60 242.15 L207.10 241.99 L207.60 241.85 L208.10 241.79 L208.60 241.55 L209.10 241.33 L209.60 241.22 L210.10 240.97 L210.60 241.02 L211.10 240.87 L211.60 240.66 L212.10 240.33 L212.60 240.25 L213.00 240.23 L213.10 240.31 L213.60 240.40 L214.10 240.65 L214.60 240.91 L215.10 240.94 L215.60 241.01 L216.10 241.21 L216.60 241.56 L217.10 241.53 L217.60 241.65 L218.10 241.87 L218.60 241.74 L219.10 241.73 L219.60 242.02 L220.10 242.09 L220.60 241.95 L221.10 241.60 L221.60 241.64 L222.10 241.42 L222.60 241.16 L223.10 240.87 L223.60 240.41 L224.10 239.70 L224.60 238.98 L225.10 238.52 L225.60 238.18 L226.10 238.00 L226.30 237.98 L226.60 238.02 L227.10 238.24 L227.60 238.61 L228.10 239.09 L228.60 239.80 L229.10 240.31 L229.60 240.51 L230.10 240.92 L230.60 241.42 L231.10 241.56 L231.60 241.84 L232.10 241.72 L232.60 241.80 L233.10 242.08 L233.60 242.15 L234.10 242.22 L234.60 242.05 L235.10 242.09 L235.60 242.14 L236.10 242.04 L236.60 242.15 L237.10 242.17 L237.60 242.39 L238.10 242.33 L238.60 242.23 L239.10 242.04 L239.60 241.94 L240.10 242.15 L240.60 241.98 L241.10 241.88 L241.60 241.85 L242.10 241.99 L242.60 242.21 L243.10 242.25 L243.60 242.36 L244.10 242.09 L244.60 241.91 L245.10 242.14 L245.60 242.08 L246.10 242.22 L246.60 242.14 L247.10 242.01 L247.60 241.98 L248.10 241.88 L248.60 242.19 L249.10 242.22 L249.60 242.14 L250.10 242.14 L250.60 242.11 L251.10 241.94 L251.60 242.22 L252.10 242.24 L252.60 242.43 L253.10 242.31 L253.60 242.31 L254.10 242.15 L254.60 241.96 L255.10 242.25 L255.60 242.38 L256.10 242.23 L256.60 242.39 L257.10 242.45 L257.60 242.26 L258.10 242.28 L258.60 242.45 L259.10 242.35 L259.60 242.49 L260.10 242.25 L260.60 242.18 L261.10 242.28 L261.60 242.12 L262.10 242.07 L262.60 242.29 L263.10 242.24 L263.60 242.35 L264.10 242.18 L264.60 242.04 L265.10 242.04 L265.60 241.96 L266.10 242.27 L266.60 242.14 L267.10 242.19 L267.60 242.02 L268.10 242.11 L268.60 242.09 L269.10 242.09 L269.60 241.94 L270.10 241.87 L270.60 242.15 L271.10 242.10 L271.60 242.02 L272.10 241.95 L272.60 241.95 L273.10 241.93 L273.60 241.83 L274.10 242.05 L274.60 242.04 L275.10 241.95 L275.60 242.14 L276.10 241.98 L276.60 241.96 L277.10 242.21 L277.60 242.04 L278.10 242.07 L278.60 242.27 L279.10 242.38 L279.60 242.15 L280.10 242.11 L280.60 242.24 L281.10 242.17 L281.60 242.39 L282.10 242.18 L282.60 242.39 L283.10 242.31 L283.60 242.15 L284.10 242.14 L284.60 242.00 L285.10 242.17 L285.60 242.07 L286.10 242.30 L286.60 242.30 L287.10 242.20 L287.60 242.09 L288.10 242.18 L288.60 242.06 L289.10 242.28 L289.60 242.08 L290.10 242.13 L290.60 242.18 L291.10 242.08 L291.60 242.25 L292.10 242.18 L292.60 242.26 L293.10 242.26 L293.60 242.15 L294.10 242.12 L294.60 241.97 L295.10 241.91 L295.60 242.18 L296.10 242.11 L296.60 242.22 L297.10 242.03 L297.60 242.13 L298.10 242.09 L298.60 242.14 L299.10 242.07 L299.60 241.93 L300.10 241.95 L300.60 241.93 L301.10 241.87 L301.60 242.10 L302.10 242.04 L302.60 242.06 L303.10 242.30 L303.60 242.38 L304.10 242.48 L304.60 242.53 L305.10 242.23 L305.60 242.12 L306.10 241.94 L306.60 242.12 L307.10 242.23 L307.60 242.15 L308.10 242.13 L308.60 242.23 L309.10 242.31 L309.60 242.15 L310.10 242.32 L310.60 242.21 L311.10 242.26 L311.60 242.09 L312.10 241.96 L312.60 242.24 L313.10 242.33 L313.60 242.37 L314.10 242.10 L314.60 241.93 L315.10 241.89 L315.60 241.88 L316.10 241.92 L316.60 241.98 L317.10 241.86 L317.60 241.91 L318.10 242.09 L318.60 241.99 L319.10 242.22 L319.60 242.24 L320.10 242.32 L320.60 242.16 L321.10 242.15 L321.60 242.25 L322.10 242.16 L322.60 241.95 L323.10 242.20 L323.60 242.32 L324.10 242.18 L324.60 241.98 L325.10 242.23 L325.60 242.26 L326.10 242.03 L326.60 241.98 L327.10 241.90 L327.60 242.15 L328.10 242.04 L328.60 242.29 L329.10 242.36 L329.60 242.11 L330.10 242.23 L330.60 242.17 L331.10 242.29 L331.60 242.40 L332.10 242.22 L332.60 242.03 L333.10 242.30 L333.60 242.22 L334.10 242.41 L334.60 242.41 L335.10 242.43 L335.60 242.48 L336.10 242.43 L336.60 242.31 L337.10 242.07 L337.60 242.21 L338.10 242.17 L338.60 242.19 L339.10 242.38 L339.60 242.14 L340.10 242.28 L340.60 242.04 L341.10 242.20 L341.60 242.33 L342.10 242.17 L342.60 242.20 L343.10 242.41 L343.60 242.39 L344.10 242.33 L344.60 242.16 L345.10 241.98 L345.60 242.00 L346.10 242.04 L346.60 241.97 L347.10 241.97 L347.60 241.90 L348.10 242.11 L348.60 242.22 L349.10 242.09 L349.60 242.02 L350.10 242.10 L350.60 242.11 L351.10 242.34 L351.60 242.22 L352.10 242.12 L352.60 242.32 L353.10 242.11 L353.60 242.17 L354.10 242.11 L354.60 242.28 L355.10 242.27 L355.60 242.36 L356.10 242.14 L356.60 242.24 L357.10 242.26 L357.60 242.22 L358.10 242.33 L358.60 242.42 L359.10 242.16 L359.60 242.08 L360.10 242.06 L360.60 241.98 L361.10 241.87 L361.60 241.90 L362.10 241.88 L362.60 242.09 L363.10 242.11 L363.60 241.97 L364.10 241.98 L364.60 242.05 L365.10 242.04 L365.60 241.95 L366.10 241.85 L366.60 241.77 L367.10 242.15 L367.60 242.28 L368.10 242.05 L368.60 242.20 L369.10 242.41 L369.60 242.34 L370.10 242.10 L370.60 242.13 L371.10 242.11 L371.60 242.00 L372.10 242.09 L372.60 241.90 L373.10 242.19 L373.60 242.24 L374.10 242.26 L374.60 242.41 L375.10 242.37 L375.60 242.17 L376.10 242.04 L376.60 241.91 L377.10 241.77 L377.60 242.01 L378.10 242.16 L378.60 241.97 L379.10 241.75 L379.60 241.74 L380.10 241.72 L380.60 241.63 L381.10 241.11 L381.60 240.99 L382.10 240.91 L382.50 240.87 L382.60 240.69 L383.10 240.61 L383.60 240.98 L384.10 241.10 L384.60 241.27 L385.10 241.50 L385.60 241.56 L386.10 241.78 L386.60 241.58 L387.10 241.17 L387.60 240.74 L388.10 239.68 L388.60 237.85 L389.10 235.87 L389.25 235.45 L389.38 235.23 L389.50 235.17 L389.60 235.21 L389.62 235.24 L389.75 235.46 L390.10 236.61 L390.60 238.67 L391.10 240.23 L391.60 241.02 L392.10 241.49 L392.60 241.95 L393.10 241.81 L393.60 241.70 L394.10 241.83 L394.60 241.80 L395.10 242.02 L395.60 241.84 L396.10 242.11 L396.60 242.28 L397.10 242.35 L397.60 242.24 L398.10 242.11 L398.60 242.20 L399.10 242.19 L399.60 242.14 L400.10 242.08 L400.60 242.09 L401.10 242.20 L401.60 242.33 L402.10 242.45 L402.60 242.19 L403.10 242.09 L403.60 242.10 L404.10 242.16 L404.60 242.10 L405.10 242.00 L405.60 241.89 L406.10 241.93 L406.60 242.01 L407.10 242.29 L407.60 242.43 L408.10 242.50 L408.60 242.59 L409.10 242.63 L409.60 242.51 L410.10 242.52 L410.60 242.19 L411.10 242.27 L411.60 242.29 L412.10 242.16 L412.60 242.20 L413.10 242.40 L413.60 242.31 L414.10 242.33 L414.60 242.18 L415.10 242.12 L415.60 242.32 L416.10 242.06 L416.60 241.97 L417.10 242.14 L417.60 242.14 L418.10 241.97 L418.60 242.13 L419.10 242.10 L419.60 242.17 L420.10 242.15 L420.60 242.18 L421.10 242.21 L421.60 242.16 L422.10 242.00 L422.60 241.94 L423.10 242.21 L423.60 242.23 L424.10 242.04 L424.60 242.27 L425.10 242.13 L425.60 241.97 L426.10 242.08 L426.60 242.01 L427.10 242.08 L427.60 242.15 L428.10 242.05 L428.60 242.14 L429.10 241.99 L429.60 242.08 L430.10 242.17 L430.60 241.99 L431.10 242.03 L431.60 241.91 L432.10 242.00 L432.60 242.24 L433.10 242.24 L433.60 242.32 L434.10 242.39 L434.60 242.14 L435.10 242.38 L435.60 242.41 L436.10 242.15 L436.60 242.31 L437.10 242.22 L437.60 242.06 L438.10 242.32 L438.60 242.30 L439.10 242.38 L439.60 242.15 L440.10 242.29 L440.60 242.06 L441.10 241.99 L441.60 242.02 L442.10 241.87 L442.60 242.05 L443.10 241.98 L443.60 241.98 L444.10 242.16 L444.60 242.14 L445.10 242.34 L445.60 242.34 L446.10 242.45 L446.60 242.38 L447.10 242.49 L447.60 242.54 L448.10 242.26 L448.60 242.34 L449.10 242.21 L449.60 242.33 L450.10 242.36 L450.60 242.44 L451.10 242.17 L451.60 242.13 L452.10 242.26 L452.60 242.44 L453.10 242.44 L453.60 242.14 L454.10 242.21 L454.60 242.03 L455.10 242.12 L455.60 242.29 L456.10 242.08 L456.60 242.32 L457.10 242.35 L457.60 242.18 L458.10 242.05 L458.60 242.09 L459.10 242.28 L459.60 242.29 L460.10 242.08 L460.60 241.91 L461.10 241.85 L461.60 242.13 L462.10 242.01 L462.60 242.11 L463.10 242.05 L463.60 242.20 L464.10 242.14 L464.60 242.01 L465.10 242.25 L465.60 242.25 L466.10 242.31 L466.60 242.41 L467.10 242.52 L467.60 242.18 L468.10 242.11 L468.60 241.99 L469.10 242.08 L469.60 242.29 L470.10 242.39 L470.60 242.11 L471.10 242.00 L471.60 242.22 L472.10 242.29 L472.60 242.21 L473.10 242.19 L473.60 242.04 L474.10 242.26 L474.60 242.19 L475.10 242.36 L475.60 242.34 L476.10 242.10 L476.60 242.06 L477.10 241.99 L477.60 242.25 L478.10 242.27 L478.60 242.04 L479.10 241.95 L479.60 241.99 L480.10 242.06 L480.60 242.15 L481.10 242.12 L481.60 242.09 L482.10 241.91 L482.60 242.06 L483.10 242.04 L483.60 241.89 L484.10 242.00 L484.60 242.29 L485.10 242.05 L485.60 241.95 L486.10 242.13 L486.60 242.05 L487.10 242.01 L487.60 242.09 L488.10 242.02 L488.60 242.13 L489.10 242.17 L489.60 242.39 L490.10 242.53 L490.60 242.19 L491.10 242.22 L491.60 242.33 L492.10 242.45 L492.60 242.47 L493.10 242.42 L493.60 242.39 L494.10 242.25 L494.60 242.13 L495.10 242.29 L495.60 242.42 L496.10 242.53 L496.60 242.48 L497.10 242.28 L497.60 242.37 L498.10 242.41 L498.60 242.33 L499.10 242.34 L499.60 242.21 L500.10 242.23 L500.60 242.18 L501.10 241.99 L501.60 242.00 L502.10 242.00 L502.60 242.30 L503.10 242.25 L503.60 242.17 L504.10 242.07 L504.60 242.00 L505.10 242.01 L505.60 241.92 L506.10 241.81 L506.60 242.13 L507.10 242.14 L507.60 242.14 L508.10 242.19 L508.60 242.11 L509.10 242.00 L509.60 241.88 L510.10 241.92 L510.60 241.95 L511.10 242.15 L511.60 242.19 L512.10 242.39 L512.60 242.24 L513.10 242.41 L513.60 242.37 L514.10 242.11 L514.60 242.00 L515.10 242.12 L515.60 242.37 L516.10 242.24 L516.60 242.34 L517.10 242.25 L517.60 242.40 L518.10 242.12 L518.60 242.15 L519.10 242.35 L519.60 242.19 L520.10 242.08 L520.60 241.92 L521.10 241.88 L521.60 241.90 L522.10 242.11 L522.60 242.02 L523.10 242.05 L523.60 241.97 L524.10 242.11 L524.60 242.31 L525.10 242.33 L525.60 242.14 L526.10 242.27 L526.60 242.45 L527.10 242.39 L527.60 242.13 L528.10 242.30 L528.60 242.43 L529.10 242.26 L529.60 242.08 L530.10 241.99 L530.60 242.09 L531.10 242.30 L531.60 242.32 L532.10 242.46 L532.60 242.23 L533.10 242.14 L533.60 242.28 L534.10 242.31 L534.60 242.22 L535.10 242.29 L535.60 242.18 L536.10 241.99" fill="none" stroke="#d8384e" stroke-width="1.45" stroke-linejoin="round" stroke-linecap="round"/>
<path d="M83.60 197.46 L84.10 197.27 L84.60 197.42 L85.10 197.38 L85.60 197.42 L86.10 197.50 L86.60 197.39 L87.10 197.42 L87.60 197.23 L88.10 197.53 L88.60 197.55 L89.10 197.75 L89.60 197.45 L90.10 197.52 L90.60 197.61 L91.10 197.49 L91.60 197.31 L92.10 197.23 L92.60 197.18 L93.10 197.43 L93.60 197.27 L94.10 197.50 L94.60 197.47 L95.10 197.50 L95.60 197.54 L96.10 197.55 L96.60 197.60 L97.10 197.60 L97.60 197.49 L98.10 197.60 L98.60 197.45 L99.10 197.56 L99.60 197.66 L100.10 197.72 L100.60 197.54 L101.10 197.65 L101.60 197.80 L102.10 197.66 L102.60 197.50 L103.10 197.51 L103.60 197.70 L104.10 197.46 L104.60 197.25 L105.10 197.34 L105.60 197.47 L106.10 197.61 L106.60 197.50 L107.10 197.72 L107.60 197.51 L108.10 197.62 L108.60 197.39 L109.10 197.22 L109.60 197.17 L110.10 197.10 L110.60 197.26 L111.10 197.38 L111.60 197.29 L112.10 197.57 L112.60 197.48 L113.10 197.33 L113.60 197.25 L114.10 197.46 L114.60 197.66 L115.10 197.45 L115.60 197.26 L116.10 197.48 L116.60 197.37 L117.10 197.64 L117.60 197.58 L118.10 197.61 L118.60 197.50 L119.10 197.63 L119.60 197.56 L120.10 197.46 L120.60 197.65 L121.10 197.42 L121.60 197.55 L122.10 197.34 L122.60 197.47 L123.10 197.44 L123.60 197.62 L124.10 197.38 L124.60 197.45 L125.10 197.43 L125.60 197.65 L126.10 197.79 L126.60 197.73 L127.10 197.51 L127.60 197.40 L128.10 197.33 L128.60 197.37 L129.10 197.30 L129.60 197.25 L130.10 197.46 L130.60 197.54 L131.10 197.43 L131.60 197.68 L132.10 197.48 L132.60 197.52 L133.10 197.36 L133.60 197.58 L134.10 197.71 L134.60 197.52 L135.10 197.62 L135.60 197.72 L136.10 197.53 L136.60 197.44 L137.10 197.46 L137.60 197.65 L138.10 197.44 L138.60 197.54 L139.10 197.57 L139.60 197.52 L140.10 197.55 L140.60 197.70 L141.10 197.49 L141.60 197.66 L142.10 197.54 L142.60 197.65 L143.10 197.75 L143.60 197.51 L144.10 197.67 L144.60 197.82 L145.10 197.60 L145.60 197.35 L146.10 197.23 L146.60 197.55 L147.10 197.31 L147.60 197.57 L148.10 197.38 L148.60 197.54 L149.10 197.34 L149.60 197.25 L150.10 197.43 L150.60 197.28 L151.10 197.29 L151.60 197.56 L152.10 197.63 L152.60 197.75 L153.10 197.86 L153.60 197.51 L154.10 197.38 L154.60 197.56 L155.10 197.62 L155.60 197.36 L156.10 197.42 L156.60 197.33 L157.10 197.37 L157.60 197.24 L158.10 197.13 L158.60 197.50 L159.10 197.41 L159.60 197.62 L160.10 197.40 L160.60 197.43 L161.10 197.29 L161.60 197.34 L162.10 197.26 L162.60 197.44 L163.10 197.30 L163.60 197.49 L164.10 197.49 L164.60 197.32 L165.10 197.32 L165.60 197.39 L166.10 197.62 L166.60 197.50 L167.10 197.37 L167.60 197.63 L168.10 197.75 L168.60 197.75 L169.10 197.55 L169.60 197.38 L170.10 197.32 L170.60 197.20 L171.10 197.11 L171.60 197.27 L172.10 197.32 L172.60 197.41 L173.10 197.38 L173.60 197.21 L174.10 197.41 L174.60 197.51 L175.10 197.52 L175.60 197.53 L176.10 197.60 L176.60 197.77 L177.10 197.83 L177.60 197.79 L178.10 197.63 L178.60 197.49 L179.10 197.45 L179.60 197.68 L180.10 197.55 L180.60 197.48 L181.10 197.44 L181.60 197.30 L182.10 197.60 L182.60 197.33 L183.10 197.44 L183.60 197.65 L184.10 197.47 L184.60 197.53 L185.10 197.45 L185.60 197.35 L186.10 197.27 L186.60 197.18 L187.10 197.45 L187.60 197.59 L188.10 197.73 L188.60 197.42 L189.10 197.53 L189.60 197.43 L190.10 197.51 L190.60 197.51 L191.10 197.41 L191.60 197.64 L192.10 197.34 L192.60 197.50 L193.10 197.63 L193.60 197.56 L194.10 197.55 L194.60 197.72 L195.10 197.48 L195.60 197.51 L196.10 197.57 L196.60 197.43 L197.10 197.49 L197.60 197.37 L198.10 197.34 L198.60 197.34 L199.10 197.33 L199.60 197.09 L200.10 196.93 L200.60 196.26 L201.10 194.39 L201.60 190.62 L202.10 185.42 L202.45 182.51 L202.58 181.96 L202.60 181.90 L202.70 181.78 L202.82 181.95 L202.95 182.51 L203.10 183.56 L203.60 188.60 L204.10 193.13 L204.60 195.70 L205.10 196.71 L205.60 197.18 L206.10 197.13 L206.60 197.06 L207.10 197.30 L207.60 197.28 L208.10 197.34 L208.60 197.44 L209.10 197.50 L209.60 197.48 L210.10 197.05 L210.60 196.89 L211.10 196.95 L211.60 196.93 L212.10 196.58 L212.60 196.38 L213.00 196.32 L213.10 196.23 L213.60 196.33 L214.10 196.65 L214.60 196.77 L215.10 196.88 L215.60 196.82 L216.10 196.96 L216.60 197.33 L217.10 197.44 L217.60 197.39 L218.10 197.38 L218.60 197.51 L219.10 197.56 L219.60 197.29 L220.10 197.33 L220.60 197.17 L221.10 197.06 L221.60 196.77 L222.10 196.52 L222.60 196.20 L223.10 195.83 L223.60 195.25 L224.10 194.78 L224.60 194.50 L225.10 194.28 L225.60 194.01 L226.10 193.89 L226.20 193.89 L226.60 193.94 L227.10 194.16 L227.60 194.52 L228.10 194.75 L228.60 195.34 L229.10 195.95 L229.60 196.16 L230.10 196.49 L230.60 196.91 L231.10 197.13 L231.60 197.18 L232.10 197.07 L232.60 197.19 L233.10 197.23 L233.60 197.41 L234.10 197.34 L234.60 197.34 L235.10 197.45 L235.60 197.60 L236.10 197.48 L236.60 197.42 L237.10 197.47 L237.60 197.66 L238.10 197.45 L238.60 197.67 L239.10 197.69 L239.60 197.54 L240.10 197.59 L240.60 197.47 L241.10 197.28 L241.60 197.48 L242.10 197.42 L242.60 197.46 L243.10 197.47 L243.60 197.65 L244.10 197.70 L244.60 197.40 L245.10 197.48 L245.60 197.46 L246.10 197.46 L246.60 197.62 L247.10 197.53 L247.60 197.50 L248.10 197.67 L248.60 197.57 L249.10 197.53 L249.60 197.52 L250.10 197.65 L250.60 197.67 L251.10 197.70 L251.60 197.57 L252.10 197.34 L252.60 197.48 L253.10 197.51 L253.60 197.62 L254.10 197.69 L254.60 197.44 L255.10 197.34 L255.60 197.21 L256.10 197.47 L256.60 197.30 L257.10 197.19 L257.60 197.43 L258.10 197.48 L258.60 197.29 L259.10 197.45 L259.60 197.56 L260.10 197.53 L260.60 197.31 L261.10 197.47 L261.60 197.44 L262.10 197.50 L262.60 197.72 L263.10 197.77 L263.60 197.83 L264.10 197.54 L264.60 197.45 L265.10 197.47 L265.60 197.26 L266.10 197.57 L266.60 197.44 L267.10 197.36 L267.60 197.33 L268.10 197.29 L268.60 197.53 L269.10 197.54 L269.60 197.53 L270.10 197.48 L270.60 197.29 L271.10 197.28 L271.60 197.53 L272.10 197.65 L272.60 197.75 L273.10 197.54 L273.60 197.39 L274.10 197.23 L274.60 197.35 L275.10 197.35 L275.60 197.40 L276.10 197.43 L276.60 197.49 L277.10 197.44 L277.60 197.59 L278.10 197.42 L278.60 197.64 L279.10 197.61 L279.60 197.36 L280.10 197.33 L280.60 197.41 L281.10 197.41 L281.60 197.47 L282.10 197.40 L282.60 197.34 L283.10 197.53 L283.60 197.43 L284.10 197.55 L284.60 197.66 L285.10 197.64 L285.60 197.56 L286.10 197.73 L286.60 197.61 L287.10 197.74 L287.60 197.44 L288.10 197.43 L288.60 197.52 L289.10 197.31 L289.60 197.55 L290.10 197.34 L290.60 197.44 L291.10 197.32 L291.60 197.58 L292.10 197.57 L292.60 197.68 L293.10 197.61 L293.60 197.64 L294.10 197.66 L294.60 197.50 L295.10 197.37 L295.60 197.57 L296.10 197.38 L296.60 197.62 L297.10 197.44 L297.60 197.28 L298.10 197.19 L298.60 197.44 L299.10 197.66 L299.60 197.56 L300.10 197.61 L300.60 197.45 L301.10 197.65 L301.60 197.67 L302.10 197.45 L302.60 197.27 L303.10 197.45 L303.60 197.26 L304.10 197.51 L304.60 197.41 L305.10 197.33 L305.60 197.43 L306.10 197.38 L306.60 197.45 L307.10 197.32 L307.60 197.57 L308.10 197.46 L308.60 197.63 L309.10 197.42 L309.60 197.59 L310.10 197.77 L310.60 197.61 L311.10 197.36 L311.60 197.36 L312.10 197.48 L312.60 197.36 L313.10 197.44 L313.60 197.28 L314.10 197.35 L314.60 197.51 L315.10 197.47 L315.60 197.56 L316.10 197.36 L316.60 197.56 L317.10 197.37 L317.60 197.61 L318.10 197.79 L318.60 197.87 L319.10 197.73 L319.60 197.54 L320.10 197.46 L320.60 197.59 L321.10 197.55 L321.60 197.72 L322.10 197.45 L322.60 197.46 L323.10 197.64 L323.60 197.63 L324.10 197.59 L324.60 197.37 L325.10 197.26 L325.60 197.25 L326.10 197.53 L326.60 197.67 L327.10 197.48 L327.60 197.68 L328.10 197.39 L328.60 197.48 L329.10 197.70 L329.60 197.55 L330.10 197.73 L330.60 197.70 L331.10 197.42 L331.60 197.38 L332.10 197.40 L332.60 197.33 L333.10 197.50 L333.60 197.36 L334.10 197.54 L334.60 197.43 L335.10 197.26 L335.60 197.38 L336.10 197.25 L336.60 197.37 L337.10 197.55 L337.60 197.57 L338.10 197.52 L338.60 197.30 L339.10 197.39 L339.60 197.25 L340.10 197.41 L340.60 197.28 L341.10 197.40 L341.60 197.37 L342.10 197.37 L342.60 197.49 L343.10 197.34 L343.60 197.25 L344.10 197.55 L344.60 197.45 L345.10 197.62 L345.60 197.74 L346.10 197.63 L346.60 197.42 L347.10 197.27 L347.60 197.53 L348.10 197.34 L348.60 197.40 L349.10 197.45 L349.60 197.30 L350.10 197.36 L350.60 197.26 L351.10 197.37 L351.60 197.42 L352.10 197.39 L352.60 197.30 L353.10 197.33 L353.60 197.26 L354.10 197.19 L354.60 197.19 L355.10 197.48 L355.60 197.48 L356.10 197.66 L356.60 197.38 L357.10 197.62 L357.60 197.56 L358.10 197.66 L358.60 197.62 L359.10 197.65 L359.60 197.47 L360.10 197.59 L360.60 197.39 L361.10 197.32 L361.60 197.18 L362.10 197.25 L362.60 197.35 L363.10 197.31 L363.60 197.56 L364.10 197.34 L364.60 197.43 L365.10 197.33 L365.60 197.43 L366.10 197.58 L366.60 197.63 L367.10 197.37 L367.60 197.30 L368.10 197.41 L368.60 197.65 L369.10 197.38 L369.60 197.47 L370.10 197.55 L370.60 197.66 L371.10 197.51 L371.60 197.63 L372.10 197.54 L372.60 197.70 L373.10 197.38 L373.60 197.60 L374.10 197.50 L374.60 197.43 L375.10 197.25 L375.60 197.21 L376.10 197.40 L376.60 197.48 L377.10 197.29 L377.60 197.26 L378.10 197.13 L378.60 197.07 L379.10 197.02 L379.60 196.99 L380.10 197.19 L380.60 197.22 L381.10 197.00 L381.60 196.56 L382.10 196.13 L382.60 195.84 L383.10 195.65 L383.60 195.49 L383.70 195.42 L384.10 195.25 L384.60 195.53 L385.10 195.99 L385.60 196.38 L386.10 196.39 L386.60 196.70 L387.10 196.68 L387.60 196.46 L388.10 196.45 L388.60 195.95 L389.10 195.18 L389.60 193.96 L390.10 192.94 L390.60 192.29 L390.80 192.23 L391.10 192.37 L391.60 193.14 L392.10 194.21 L392.60 195.46 L393.10 196.13 L393.60 196.76 L394.10 197.12 L394.60 197.36 L395.10 197.23 L395.60 197.44 L396.10 197.35 L396.60 197.46 L397.10 197.12 L397.60 197.25 L398.10 197.17 L398.60 196.80 L399.10 196.75 L399.60 196.35 L400.10 196.02 L400.60 195.88 L401.10 195.69 L401.50 195.73 L401.60 195.96 L402.10 196.07 L402.60 196.26 L403.10 196.34 L403.60 196.66 L404.10 196.93 L404.60 197.11 L405.10 197.38 L405.60 197.51 L406.10 197.42 L406.60 197.23 L407.10 197.38 L407.60 197.55 L408.10 197.43 L408.60 197.48 L409.10 197.62 L409.60 197.68 L410.10 197.37 L410.60 197.40 L411.10 197.21 L411.60 197.13 L412.10 197.41 L412.60 197.39 L413.10 197.47 L413.60 197.45 L414.10 197.39 L414.60 197.29 L415.10 197.30 L415.60 197.52 L416.10 197.56 L416.60 197.43 L417.10 197.27 L417.60 197.25 L418.10 197.43 L418.60 197.43 L419.10 197.52 L419.60 197.64 L420.10 197.41 L420.60 197.52 L421.10 197.30 L421.60 197.52 L422.10 197.37 L422.60 197.31 L423.10 197.59 L423.60 197.49 L424.10 197.36 L424.60 197.59 L425.10 197.60 L425.60 197.73 L426.10 197.59 L426.60 197.55 L427.10 197.73 L427.60 197.64 L428.10 197.80 L428.60 197.54 L429.10 197.67 L429.60 197.44 L430.10 197.48 L430.60 197.26 L431.10 197.21 L431.60 197.52 L432.10 197.49 L432.60 197.63 L433.10 197.46 L433.60 197.41 L434.10 197.26 L434.60 197.38 L435.10 197.59 L435.60 197.56 L436.10 197.48 L436.60 197.68 L437.10 197.78 L437.60 197.74 L438.10 197.45 L438.60 197.52 L439.10 197.49 L439.60 197.70 L440.10 197.55 L440.60 197.60 L441.10 197.62 L441.60 197.51 L442.10 197.52 L442.60 197.59 L443.10 197.73 L443.60 197.64 L444.10 197.52 L444.60 197.72 L445.10 197.43 L445.60 197.61 L446.10 197.65 L446.60 197.61 L447.10 197.54 L447.60 197.64 L448.10 197.76 L448.60 197.75 L449.10 197.76 L449.60 197.45 L450.10 197.39 L450.60 197.27 L451.10 197.56 L451.60 197.71 L452.10 197.47 L452.60 197.52 L453.10 197.54 L453.60 197.32 L454.10 197.34 L454.60 197.52 L455.10 197.57 L455.60 197.44 L456.10 197.58 L456.60 197.45 L457.10 197.49 L457.60 197.46 L458.10 197.69 L458.60 197.68 L459.10 197.74 L459.60 197.72 L460.10 197.58 L460.60 197.75 L461.10 197.75 L461.60 197.73 L462.10 197.54 L462.60 197.37 L463.10 197.46 L463.60 197.62 L464.10 197.70 L464.60 197.55 L465.10 197.37 L465.60 197.43 L466.10 197.62 L466.60 197.42 L467.10 197.56 L467.60 197.39 L468.10 197.35 L468.60 197.21 L469.10 197.23 L469.60 197.29 L470.10 197.58 L470.60 197.75 L471.10 197.51 L471.60 197.42 L472.10 197.65 L472.60 197.45 L473.10 197.39 L473.60 197.41 L474.10 197.27 L474.60 197.25 L475.10 197.30 L475.60 197.33 L476.10 197.61 L476.60 197.46 L477.10 197.34 L477.60 197.59 L478.10 197.53 L478.60 197.67 L479.10 197.66 L479.60 197.72 L480.10 197.55 L480.60 197.37 L481.10 197.54 L481.60 197.51 L482.10 197.53 L482.60 197.59 L483.10 197.67 L483.60 197.50 L484.10 197.44 L484.60 197.65 L485.10 197.60 L485.60 197.47 L486.10 197.54 L486.60 197.41 L487.10 197.57 L487.60 197.34 L488.10 197.55 L488.60 197.56 L489.10 197.47 L489.60 197.68 L490.10 197.50 L490.60 197.39 L491.10 197.24 L491.60 197.36 L492.10 197.53 L492.60 197.60 L493.10 197.52 L493.60 197.65 L494.10 197.41 L494.60 197.36 L495.10 197.48 L495.60 197.70 L496.10 197.68 L496.60 197.69 L497.10 197.74 L497.60 197.60 L498.10 197.75 L498.60 197.76 L499.10 197.59 L499.60 197.50 L500.10 197.64 L500.60 197.52 L501.10 197.37 L501.60 197.59 L502.10 197.57 L502.60 197.55 L503.10 197.60 L503.60 197.74 L504.10 197.48 L504.60 197.42 L505.10 197.25 L505.60 197.31 L506.10 197.39 L506.60 197.59 L507.10 197.63 L507.60 197.61 L508.10 197.52 L508.60 197.55 L509.10 197.43 L509.60 197.61 L510.10 197.69 L510.60 197.77 L511.10 197.50 L511.60 197.58 L512.10 197.66 L512.60 197.60 L513.10 197.74 L513.60 197.82 L514.10 197.80 L514.60 197.82 L515.10 197.76 L515.60 197.83 L516.10 197.53 L516.60 197.61 L517.10 197.66 L517.60 197.64 L518.10 197.49 L518.60 197.30 L519.10 197.42 L519.60 197.60 L520.10 197.46 L520.60 197.35 L521.10 197.28 L521.60 197.19 L522.10 197.39 L522.60 197.65 L523.10 197.72 L523.60 197.57 L524.10 197.63 L524.60 197.39 L525.10 197.58 L525.60 197.47 L526.10 197.26 L526.60 197.41 L527.10 197.29 L527.60 197.27 L528.10 197.16 L528.60 197.27 L529.10 197.39 L529.60 197.57 L530.10 197.34 L530.60 197.55 L531.10 197.35 L531.60 197.29 L532.10 197.43 L532.60 197.39 L533.10 197.36 L533.60 197.44 L534.10 197.34 L534.60 197.54 L535.10 197.39 L535.60 197.59 L536.10 197.69" fill="none" stroke="#4a74c4" stroke-width="1.45" stroke-linejoin="round" stroke-linecap="round"/>
<path d="M83.60 156.31 L84.10 156.23 L84.60 156.30 L85.10 156.22 L85.60 156.26 L86.10 156.26 L86.60 156.21 L87.10 156.26 L87.60 156.31 L88.10 156.32 L88.60 156.30 L89.10 156.30 L89.60 156.31 L90.10 156.26 L90.60 156.34 L91.10 156.40 L91.60 156.41 L92.10 156.44 L92.60 156.36 L93.10 156.41 L93.60 156.30 L94.10 156.29 L94.60 156.24 L95.10 156.25 L95.60 156.30 L96.10 156.33 L96.60 156.31 L97.10 156.28 L97.60 156.24 L98.10 156.25 L98.60 156.23 L99.10 156.21 L99.60 156.28 L100.10 156.29 L100.60 156.29 L101.10 156.24 L101.60 156.30 L102.10 156.25 L102.60 156.23 L103.10 156.27 L103.60 156.31 L104.10 156.38 L104.60 156.39 L105.10 156.42 L105.60 156.44 L106.10 156.42 L106.60 156.41 L107.10 156.29 L107.60 156.25 L108.10 156.19 L108.60 156.29 L109.10 156.33 L109.60 156.34 L110.10 156.28 L110.60 156.27 L111.10 156.23 L111.60 156.28 L112.10 156.36 L112.60 156.31 L113.10 156.23 L113.60 156.21 L114.10 156.22 L114.60 156.32 L115.10 156.36 L115.60 156.33 L116.10 156.25 L116.60 156.21 L117.10 156.19 L117.60 156.28 L118.10 156.28 L118.60 156.37 L119.10 156.41 L119.60 156.41 L120.10 156.36 L120.60 156.39 L121.10 156.29 L121.60 156.23 L122.10 156.27 L122.60 156.28 L123.10 156.24 L123.60 156.22 L124.10 156.18 L124.60 156.29 L125.10 156.33 L125.60 156.39 L126.10 156.43 L126.60 156.37 L127.10 156.38 L127.60 156.33 L128.10 156.37 L128.60 156.39 L129.10 156.30 L129.60 156.22 L130.10 156.20 L130.60 156.26 L131.10 156.25 L131.60 156.19 L132.10 156.29 L132.60 156.34 L133.10 156.32 L133.60 156.24 L134.10 156.32 L134.60 156.32 L135.10 156.24 L135.60 156.24 L136.10 156.28 L136.60 156.35 L137.10 156.33 L137.60 156.34 L138.10 156.27 L138.60 156.24 L139.10 156.33 L139.60 156.30 L140.10 156.23 L140.60 156.27 L141.10 156.22 L141.60 156.21 L142.10 156.24 L142.60 156.27 L143.10 156.31 L143.60 156.34 L144.10 156.31 L144.60 156.24 L145.10 156.30 L145.60 156.23 L146.10 156.25 L146.60 156.25 L147.10 156.30 L147.60 156.33 L148.10 156.28 L148.60 156.31 L149.10 156.33 L149.60 156.31 L150.10 156.25 L150.60 156.33 L151.10 156.34 L151.60 156.25 L152.10 156.23 L152.60 156.33 L153.10 156.27 L153.60 156.27 L154.10 156.32 L154.60 156.36 L155.10 156.36 L155.60 156.37 L156.10 156.27 L156.60 156.21 L157.10 156.32 L157.60 156.36 L158.10 156.26 L158.60 156.20 L159.10 156.20 L159.60 156.31 L160.10 156.26 L160.60 156.30 L161.10 156.37 L161.60 156.36 L162.10 156.40 L162.60 156.32 L163.10 156.26 L163.60 156.19 L164.10 156.28 L164.60 156.22 L165.10 156.33 L165.60 156.35 L166.10 156.28 L166.60 156.33 L167.10 156.26 L167.60 156.28 L168.10 156.22 L168.60 156.30 L169.10 156.36 L169.60 156.40 L170.10 156.28 L170.60 156.34 L171.10 156.33 L171.60 156.37 L172.10 156.34 L172.60 156.34 L173.10 156.33 L173.60 156.37 L174.10 156.27 L174.60 156.21 L175.10 156.25 L175.60 156.23 L176.10 156.24 L176.60 156.18 L177.10 156.26 L177.60 156.20 L178.10 156.29 L178.60 156.34 L179.10 156.31 L179.60 156.24 L180.10 156.28 L180.60 156.24 L181.10 156.25 L181.60 156.20 L182.10 156.31 L182.60 156.31 L183.10 156.27 L183.60 156.21 L184.10 156.28 L184.60 156.33 L185.10 156.37 L185.60 156.27 L186.10 156.25 L186.60 156.23 L187.10 156.29 L187.60 156.22 L188.10 156.26 L188.60 156.34 L189.10 156.35 L189.60 156.24 L190.10 156.18 L190.60 156.14 L191.10 156.22 L191.60 156.24 L192.10 156.24 L192.60 156.23 L193.10 156.21 L193.60 156.22 L194.10 156.23 L194.60 156.27 L195.10 156.26 L195.60 156.25 L196.10 156.24 L196.60 156.21 L197.10 156.13 L197.60 155.92 L198.10 155.81 L198.60 155.60 L199.10 154.87 L199.60 152.81 L200.10 148.37 L200.55 143.63 L200.60 143.27 L200.68 142.84 L200.80 142.59 L200.92 142.84 L201.05 143.63 L201.10 144.05 L201.60 149.44 L202.10 153.32 L202.60 155.08 L203.10 155.64 L203.60 155.92 L204.10 156.04 L204.60 156.14 L205.10 156.22 L205.60 156.24 L206.10 156.18 L206.60 156.15 L207.10 156.16 L207.60 156.10 L208.10 156.10 L208.60 156.21 L209.10 156.28 L209.60 156.23 L210.10 156.27 L210.60 156.29 L211.10 156.31 L211.60 156.31 L212.10 156.24 L212.60 156.11 L213.10 156.11 L213.60 155.97 L214.10 155.88 L214.60 155.76 L215.00 155.74 L215.10 155.82 L215.60 155.79 L216.10 155.90 L216.60 156.02 L217.10 156.10 L217.60 156.21 L218.10 156.19 L218.60 156.25 L219.10 156.25 L219.60 156.28 L220.10 156.16 L220.60 156.09 L221.10 156.05 L221.60 156.11 L222.10 155.97 L222.60 155.90 L223.10 155.87 L223.60 155.82 L224.10 155.52 L224.60 155.03 L225.10 153.66 L225.60 149.81 L226.10 142.99 L226.35 139.75 L226.48 138.72 L226.60 138.39 L226.72 138.72 L226.85 139.75 L227.10 142.99 L227.60 149.81 L228.10 153.67 L228.60 155.09 L229.10 155.57 L229.60 155.80 L230.10 155.94 L230.60 156.04 L231.10 156.05 L231.60 156.02 L232.10 156.02 L232.60 156.01 L233.10 156.06 L233.60 156.07 L234.10 156.07 L234.60 156.13 L235.10 156.25 L235.60 156.28 L236.10 156.23 L236.60 156.28 L237.10 156.22 L237.60 156.17 L238.10 156.18 L238.60 156.20 L239.10 156.25 L239.60 156.25 L240.10 156.30 L240.60 156.22 L241.10 156.31 L241.60 156.27 L242.10 156.33 L242.60 156.23 L243.10 156.30 L243.60 156.25 L244.10 156.32 L244.60 156.35 L245.10 156.35 L245.60 156.29 L246.10 156.21 L246.60 156.19 L247.10 156.29 L247.60 156.23 L248.10 156.28 L248.60 156.30 L249.10 156.32 L249.60 156.25 L250.10 156.21 L250.60 156.18 L251.10 156.30 L251.60 156.28 L252.10 156.31 L252.60 156.31 L253.10 156.26 L253.60 156.20 L254.10 156.16 L254.60 156.27 L255.10 156.22 L255.60 156.32 L256.10 156.29 L256.60 156.32 L257.10 156.25 L257.60 156.31 L258.10 156.27 L258.60 156.25 L259.10 156.27 L259.60 156.22 L260.10 156.21 L260.60 156.29 L261.10 156.26 L261.60 156.25 L262.10 156.31 L262.60 156.26 L263.10 156.22 L263.60 156.21 L264.10 156.22 L264.60 156.23 L265.10 156.28 L265.60 156.28 L266.10 156.34 L266.60 156.25 L267.10 156.29 L267.60 156.35 L268.10 156.28 L268.60 156.21 L269.10 156.23 L269.60 156.20 L270.10 156.23 L270.60 156.29 L271.10 156.23 L271.60 156.19 L272.10 156.23 L272.60 156.20 L273.10 156.20 L273.60 156.23 L274.10 156.19 L274.60 156.16 L275.10 156.19 L275.60 156.23 L276.10 156.32 L276.60 156.32 L277.10 156.24 L277.60 156.22 L278.10 156.29 L278.60 156.30 L279.10 156.36 L279.60 156.41 L280.10 156.42 L280.60 156.31 L281.10 156.37 L281.60 156.34 L282.10 156.28 L282.60 156.23 L283.10 156.32 L283.60 156.26 L284.10 156.21 L284.60 156.20 L285.10 156.31 L285.60 156.30 L286.10 156.33 L286.60 156.25 L287.10 156.26 L287.60 156.24 L288.10 156.22 L288.60 156.27 L289.10 156.26 L289.60 156.21 L290.10 156.32 L290.60 156.31 L291.10 156.25 L291.60 156.19 L292.10 156.25 L292.60 156.27 L293.10 156.20 L293.60 156.23 L294.10 156.29 L294.60 156.30 L295.10 156.25 L295.60 156.27 L296.10 156.29 L296.60 156.32 L297.10 156.25 L297.60 156.31 L298.10 156.37 L298.60 156.38 L299.10 156.40 L299.60 156.33 L300.10 156.38 L300.60 156.29 L301.10 156.24 L301.60 156.28 L302.10 156.34 L302.60 156.25 L303.10 156.22 L303.60 156.17 L304.10 156.20 L304.60 156.17 L305.10 156.16 L305.60 156.25 L306.10 156.27 L306.60 156.33 L307.10 156.29 L307.60 156.30 L308.10 156.20 L308.60 156.28 L309.10 156.20 L309.60 156.18 L310.10 156.14 L310.60 156.13 L311.10 155.97 L311.60 155.85 L312.10 155.61 L312.60 155.35 L313.00 155.35 L313.10 155.28 L313.60 155.48 L314.10 155.66 L314.60 155.81 L315.10 156.05 L315.60 156.11 L316.10 156.16 L316.60 156.17 L317.10 156.23 L317.60 156.17 L318.10 156.18 L318.60 156.16 L319.10 156.25 L319.60 156.18 L320.10 156.23 L320.60 156.21 L321.10 156.22 L321.60 156.25 L322.10 156.29 L322.60 156.22 L323.10 156.20 L323.60 156.16 L324.10 156.28 L324.60 156.21 L325.10 156.17 L325.60 156.21 L326.10 156.24 L326.60 156.30 L327.10 156.20 L327.60 156.17 L328.10 156.13 L328.60 156.16 L329.10 156.14 L329.60 156.10 L330.10 156.11 L330.60 156.03 L331.10 155.95 L331.60 155.86 L332.10 155.65 L332.60 155.61 L333.00 155.53 L333.10 155.44 L333.60 155.58 L334.10 155.62 L334.60 155.69 L335.10 155.82 L335.60 155.92 L336.10 156.11 L336.60 156.22 L337.10 156.22 L337.60 156.24 L338.10 156.30 L338.60 156.33 L339.10 156.33 L339.60 156.30 L340.10 156.22 L340.60 156.20 L341.10 156.25 L341.60 156.27 L342.10 156.32 L342.60 156.36 L343.10 156.40 L343.60 156.30 L344.10 156.22 L344.60 156.30 L345.10 156.30 L345.60 156.24 L346.10 156.28 L346.60 156.24 L347.10 156.21 L347.60 156.21 L348.10 156.24 L348.60 156.28 L349.10 156.21 L349.60 156.27 L350.10 156.29 L350.60 156.28 L351.10 156.30 L351.60 156.34 L352.10 156.23 L352.60 156.24 L353.10 156.28 L353.60 156.31 L354.10 156.32 L354.60 156.25 L355.10 156.33 L355.60 156.35 L356.10 156.27 L356.60 156.26 L357.10 156.33 L357.60 156.26 L358.10 156.24 L358.60 156.32 L359.10 156.36 L359.60 156.27 L360.10 156.30 L360.60 156.26 L361.10 156.28 L361.60 156.31 L362.10 156.22 L362.60 156.19 L363.10 156.16 L363.60 156.15 L364.10 156.11 L364.60 156.10 L365.10 156.13 L365.60 156.16 L366.10 156.11 L366.60 156.17 L367.10 156.25 L367.60 156.24 L368.10 156.20 L368.60 156.23 L369.10 156.20 L369.60 156.13 L370.10 156.14 L370.60 156.07 L371.10 156.12 L371.60 156.07 L372.10 156.06 L372.60 156.14 L373.10 156.15 L373.60 156.16 L374.10 156.12 L374.60 156.08 L375.10 156.05 L375.60 156.06 L376.10 155.91 L376.60 155.88 L377.10 155.75 L377.60 155.62 L378.10 155.56 L378.60 155.41 L379.10 155.23 L379.60 154.96 L380.10 154.50 L380.60 153.76 L381.10 152.67 L381.60 150.28 L382.10 142.89 L382.60 121.57 L383.10 84.37 L383.25 74.29 L383.38 68.47 L383.50 66.60 L383.60 67.91 L383.62 68.47 L383.75 74.29 L384.10 100.03 L384.60 132.38 L385.10 146.92 L385.60 151.52 L386.10 153.19 L386.60 154.15 L387.10 154.61 L387.60 154.96 L388.10 155.24 L388.60 155.41 L389.10 155.55 L389.60 155.67 L390.10 155.73 L390.60 155.75 L391.10 155.78 L391.60 155.82 L392.10 155.85 L392.60 155.96 L393.10 156.04 L393.60 156.03 L394.10 156.12 L394.60 156.16 L395.10 156.13 L395.60 156.14 L396.10 156.11 L396.60 156.21 L397.10 156.21 L397.60 156.13 L398.10 156.11 L398.60 156.18 L399.10 156.17 L399.60 156.23 L400.10 156.18 L400.60 156.25 L401.10 156.29 L401.60 156.20 L402.10 156.23 L402.60 156.19 L403.10 156.24 L403.60 156.29 L404.10 156.32 L404.60 156.25 L405.10 156.19 L405.60 156.24 L406.10 156.26 L406.60 156.20 L407.10 156.17 L407.60 156.22 L408.10 156.18 L408.60 156.23 L409.10 156.20 L409.60 156.19 L410.10 156.21 L410.60 156.24 L411.10 156.29 L411.60 156.20 L412.10 156.27 L412.60 156.22 L413.10 156.21 L413.60 156.26 L414.10 156.29 L414.60 156.31 L415.10 156.36 L415.60 156.28 L416.10 156.25 L416.60 156.28 L417.10 156.24 L417.60 156.20 L418.10 156.19 L418.60 156.27 L419.10 156.32 L419.60 156.34 L420.10 156.39 L420.60 156.39 L421.10 156.32 L421.60 156.27 L422.10 156.31 L422.60 156.23 L423.10 156.27 L423.60 156.21 L424.10 156.16 L424.60 156.21 L425.10 156.19 L425.60 156.29 L426.10 156.35 L426.60 156.32 L427.10 156.25 L427.60 156.20 L428.10 156.24 L428.60 156.26 L429.10 156.25 L429.60 156.29 L430.10 156.29 L430.60 156.33 L431.10 156.25 L431.60 156.19 L432.10 156.21 L432.60 156.24 L433.10 156.21 L433.60 156.27 L434.10 156.23 L434.60 156.22 L435.10 156.24 L435.60 156.29 L436.10 156.32 L436.60 156.28 L437.10 156.27 L437.60 156.34 L438.10 156.38 L438.60 156.35 L439.10 156.25 L439.60 156.25 L440.10 156.27 L440.60 156.23 L441.10 156.16 L441.60 156.27 L442.10 156.32 L442.60 156.22 L443.10 156.20 L443.60 156.21 L444.10 156.14 L444.60 156.04 L445.10 156.05 L445.60 156.00 L446.10 155.84 L446.60 155.60 L447.10 155.41 L447.60 155.18 L448.10 155.15 L448.50 155.03 L448.60 155.03 L449.10 155.18 L449.60 155.29 L450.10 155.45 L450.60 155.60 L451.10 155.75 L451.60 155.93 L452.10 156.10 L452.60 156.10 L453.10 156.10 L453.60 156.20 L454.10 156.21 L454.60 156.20 L455.10 156.16 L455.60 156.16 L456.10 156.28 L456.60 156.21 L457.10 156.20 L457.60 156.26 L458.10 156.33 L458.60 156.37 L459.10 156.33 L459.60 156.38 L460.10 156.36 L460.60 156.29 L461.10 156.28 L461.60 156.32 L462.10 156.34 L462.60 156.26 L463.10 156.22 L463.60 156.32 L464.10 156.24 L464.60 156.31 L465.10 156.28 L465.60 156.24 L466.10 156.22 L466.60 156.24 L467.10 156.34 L467.60 156.26 L468.10 156.33 L468.60 156.29 L469.10 156.23 L469.60 156.30 L470.10 156.27 L470.60 156.23 L471.10 156.24 L471.60 156.31 L472.10 156.36 L472.60 156.35 L473.10 156.25 L473.60 156.31 L474.10 156.32 L474.60 156.37 L475.10 156.41 L475.60 156.34 L476.10 156.37 L476.60 156.39 L477.10 156.31 L477.60 156.28 L478.10 156.27 L478.60 156.25 L479.10 156.25 L479.60 156.20 L480.10 156.20 L480.60 156.30 L481.10 156.28 L481.60 156.31 L482.10 156.36 L482.60 156.38 L483.10 156.30 L483.60 156.36 L484.10 156.38 L484.60 156.43 L485.10 156.41 L485.60 156.40 L486.10 156.41 L486.60 156.32 L487.10 156.33 L487.60 156.30 L488.10 156.35 L488.60 156.27 L489.10 156.28 L489.60 156.26 L490.10 156.32 L490.60 156.29 L491.10 156.34 L491.60 156.38 L492.10 156.40 L492.60 156.30 L493.10 156.36 L493.60 156.37 L494.10 156.37 L494.60 156.36 L495.10 156.26 L495.60 156.33 L496.10 156.32 L496.60 156.30 L497.10 156.27 L497.60 156.32 L498.10 156.35 L498.60 156.38 L499.10 156.29 L499.60 156.26 L500.10 156.23 L500.60 156.18 L501.10 156.19 L501.60 156.15 L502.10 156.24 L502.60 156.21 L503.10 156.16 L503.60 156.13 L504.10 156.21 L504.60 156.18 L505.10 156.19 L505.60 156.19 L506.10 156.24 L506.60 156.29 L507.10 156.21 L507.60 156.19 L508.10 156.19 L508.60 156.07 L509.10 156.00 L509.60 155.84 L510.10 155.58 L510.60 155.40 L511.10 155.16 L511.60 154.91 L512.00 154.89 L512.10 154.95 L512.60 155.03 L513.10 155.21 L513.60 155.42 L514.10 155.70 L514.60 155.88 L515.10 155.95 L515.60 156.03 L516.10 156.09 L516.60 156.22 L517.10 156.26 L517.60 156.19 L518.10 156.28 L518.60 156.20 L519.10 156.24 L519.60 156.24 L520.10 156.28 L520.60 156.27 L521.10 156.20 L521.60 156.23 L522.10 156.30 L522.60 156.34 L523.10 156.29 L523.60 156.24 L524.10 156.30 L524.60 156.34 L525.10 156.27 L525.60 156.34 L526.10 156.40 L526.60 156.34 L527.10 156.30 L527.60 156.33 L528.10 156.38 L528.60 156.30 L529.10 156.26 L529.60 156.25 L530.10 156.30 L530.60 156.25 L531.10 156.27 L531.60 156.28 L532.10 156.31 L532.60 156.25 L533.10 156.34 L533.60 156.40 L534.10 156.37 L534.60 156.38 L535.10 156.30 L535.60 156.36 L536.10 156.34" fill="none" stroke="#60a87a" stroke-width="1.45" stroke-linejoin="round" stroke-linecap="round"/>
<path d="M83.60 114.35 L84.10 114.40 L84.60 114.33 L85.10 114.40 L85.60 114.30 L86.10 114.21 L86.60 114.25 L87.10 114.34 L87.60 114.40 L88.10 114.45 L88.60 114.39 L89.10 114.44 L89.60 114.39 L90.10 114.29 L90.60 114.32 L91.10 114.37 L91.60 114.33 L92.10 114.33 L92.60 114.27 L93.10 114.24 L93.60 114.25 L94.10 114.27 L94.60 114.28 L95.10 114.21 L95.60 114.15 L96.10 114.18 L96.60 114.27 L97.10 114.33 L97.60 114.27 L98.10 114.23 L98.60 114.26 L99.10 114.21 L99.60 114.27 L100.10 114.36 L100.60 114.28 L101.10 114.30 L101.60 114.34 L102.10 114.37 L102.60 114.38 L103.10 114.39 L103.60 114.31 L104.10 114.37 L104.60 114.42 L105.10 114.29 L105.60 114.38 L106.10 114.33 L106.60 114.24 L107.10 114.18 L107.60 114.29 L108.10 114.32 L108.60 114.25 L109.10 114.26 L109.60 114.30 L110.10 114.40 L110.60 114.33 L111.10 114.37 L111.60 114.29 L112.10 114.24 L112.60 114.20 L113.10 114.22 L113.60 114.27 L114.10 114.25 L114.60 114.20 L115.10 114.19 L115.60 114.15 L116.10 114.15 L116.60 114.17 L117.10 114.23 L117.60 114.19 L118.10 114.23 L118.60 114.25 L119.10 114.36 L119.60 114.33 L120.10 114.40 L120.60 114.36 L121.10 114.27 L121.60 114.30 L122.10 114.23 L122.60 114.20 L123.10 114.15 L123.60 114.25 L124.10 114.36 L124.60 114.32 L125.10 114.28 L125.60 114.27 L126.10 114.25 L126.60 114.31 L127.10 114.28 L127.60 114.22 L128.10 114.32 L128.60 114.33 L129.10 114.22 L129.60 114.32 L130.10 114.35 L130.60 114.30 L131.10 114.33 L131.60 114.40 L132.10 114.34 L132.60 114.31 L133.10 114.27 L133.60 114.29 L134.10 114.32 L134.60 114.36 L135.10 114.42 L135.60 114.30 L136.10 114.28 L136.60 114.35 L137.10 114.39 L137.60 114.37 L138.10 114.37 L138.60 114.31 L139.10 114.39 L139.60 114.36 L140.10 114.32 L140.60 114.25 L141.10 114.19 L141.60 114.31 L142.10 114.36 L142.60 114.25 L143.10 114.23 L143.60 114.25 L144.10 114.27 L144.60 114.26 L145.10 114.35 L145.60 114.30 L146.10 114.30 L146.60 114.38 L147.10 114.38 L147.60 114.34 L148.10 114.29 L148.60 114.27 L149.10 114.30 L149.60 114.36 L150.10 114.29 L150.60 114.27 L151.10 114.26 L151.60 114.25 L152.10 114.35 L152.60 114.33 L153.10 114.28 L153.60 114.25 L154.10 114.33 L154.60 114.25 L155.10 114.31 L155.60 114.21 L156.10 114.19 L156.60 114.15 L157.10 114.26 L157.60 114.21 L158.10 114.19 L158.60 114.15 L159.10 114.16 L159.60 114.26 L160.10 114.32 L160.60 114.39 L161.10 114.44 L161.60 114.39 L162.10 114.43 L162.60 114.30 L163.10 114.38 L163.60 114.33 L164.10 114.26 L164.60 114.32 L165.10 114.38 L165.60 114.32 L166.10 114.23 L166.60 114.33 L167.10 114.36 L167.60 114.36 L168.10 114.42 L168.60 114.28 L169.10 114.20 L169.60 114.17 L170.10 114.13 L170.60 114.23 L171.10 114.28 L171.60 114.21 L172.10 114.18 L172.60 114.16 L173.10 114.24 L173.60 114.29 L174.10 114.38 L174.60 114.32 L175.10 114.40 L175.60 114.34 L176.10 114.30 L176.60 114.25 L177.10 114.22 L177.60 114.34 L178.10 114.41 L178.60 114.40 L179.10 114.30 L179.60 114.23 L180.10 114.19 L180.60 114.20 L181.10 114.28 L181.60 114.20 L182.10 114.24 L182.60 114.29 L183.10 114.20 L183.60 114.22 L184.10 114.31 L184.60 114.31 L185.10 114.29 L185.60 114.36 L186.10 114.35 L186.60 114.29 L187.10 114.27 L187.60 114.36 L188.10 114.40 L188.60 114.43 L189.10 114.38 L189.60 114.27 L190.10 114.21 L190.60 114.21 L191.10 114.27 L191.60 114.18 L192.10 114.27 L192.60 114.32 L193.10 114.30 L193.60 114.19 L194.10 114.27 L194.60 114.24 L195.10 114.27 L195.60 114.27 L196.10 114.29 L196.60 114.23 L197.10 114.29 L197.60 114.31 L198.10 114.27 L198.60 114.12 L199.10 113.82 L199.60 113.42 L200.10 112.88 L200.60 112.49 L200.75 112.43 L200.88 112.40 L201.00 112.41 L201.10 112.46 L201.12 112.43 L201.25 112.39 L201.60 112.69 L202.10 113.13 L202.60 113.60 L203.10 113.82 L203.60 114.07 L204.10 114.14 L204.60 114.13 L205.10 114.25 L205.60 114.16 L206.10 114.27 L206.60 114.30 L207.10 114.20 L207.60 114.26 L208.10 114.26 L208.60 114.32 L209.10 114.30 L209.60 114.25 L210.10 114.32 L210.60 114.19 L211.10 114.23 L211.60 114.12 L212.10 114.06 L212.60 113.94 L213.10 113.96 L213.60 113.79 L214.10 113.67 L214.60 113.45 L215.00 113.46 L215.10 113.48 L215.60 113.47 L216.10 113.65 L216.60 113.86 L217.10 113.92 L217.60 114.05 L218.10 114.05 L218.60 114.05 L219.10 114.16 L219.60 114.21 L220.10 114.25 L220.60 114.15 L221.10 114.10 L221.60 114.10 L222.10 114.06 L222.60 113.94 L223.10 113.90 L223.60 113.71 L224.10 113.60 L224.60 113.27 L225.10 112.72 L225.60 111.98 L226.10 110.05 L226.60 102.13 L227.10 74.84 L227.35 55.92 L227.48 48.87 L227.60 46.49 L227.72 48.87 L227.85 55.92 L228.10 74.84 L228.60 102.13 L229.10 110.05 L229.60 111.88 L230.10 112.71 L230.60 113.10 L231.10 113.49 L231.60 113.75 L232.10 113.76 L232.60 113.86 L233.10 113.94 L233.60 114.04 L234.10 114.12 L234.60 114.10 L235.10 114.20 L235.60 114.13 L236.10 114.08 L236.60 114.19 L237.10 114.12 L237.60 114.10 L238.10 114.14 L238.60 114.15 L239.10 114.11 L239.60 114.25 L240.10 114.24 L240.60 114.29 L241.10 114.23 L241.60 114.32 L242.10 114.24 L242.60 114.32 L243.10 114.32 L243.60 114.39 L244.10 114.39 L244.60 114.36 L245.10 114.33 L245.60 114.37 L246.10 114.32 L246.60 114.22 L247.10 114.32 L247.60 114.36 L248.10 114.36 L248.60 114.37 L249.10 114.28 L249.60 114.27 L250.10 114.34 L250.60 114.40 L251.10 114.43 L251.60 114.31 L252.10 114.33 L252.60 114.32 L253.10 114.29 L253.60 114.22 L254.10 114.18 L254.60 114.21 L255.10 114.24 L255.60 114.21 L256.10 114.22 L256.60 114.25 L257.10 114.32 L257.60 114.32 L258.10 114.24 L258.60 114.33 L259.10 114.29 L259.60 114.38 L260.10 114.43 L260.60 114.30 L261.10 114.31 L261.60 114.39 L262.10 114.33 L262.60 114.32 L263.10 114.27 L263.60 114.19 L264.10 114.17 L264.60 114.14 L265.10 114.16 L265.60 114.23 L266.10 114.27 L266.60 114.36 L267.10 114.37 L267.60 114.31 L268.10 114.38 L268.60 114.37 L269.10 114.34 L269.60 114.39 L270.10 114.38 L270.60 114.31 L271.10 114.32 L271.60 114.27 L272.10 114.36 L272.60 114.28 L273.10 114.37 L273.60 114.25 L274.10 114.17 L274.60 114.22 L275.10 114.19 L275.60 114.22 L276.10 114.17 L276.60 114.28 L277.10 114.31 L277.60 114.33 L278.10 114.38 L278.60 114.43 L279.10 114.39 L279.60 114.38 L280.10 114.23 L280.60 114.14 L281.10 114.15 L281.60 114.25 L282.10 114.17 L282.60 114.14 L283.10 113.98 L283.60 113.91 L284.10 113.90 L284.60 113.78 L285.10 113.70 L285.60 113.48 L286.00 113.41 L286.10 113.38 L286.60 113.55 L287.10 113.58 L287.60 113.83 L288.10 113.89 L288.60 114.08 L289.10 114.14 L289.60 114.14 L290.10 114.27 L290.60 114.25 L291.10 114.29 L291.60 114.19 L292.10 114.28 L292.60 114.37 L293.10 114.25 L293.60 114.31 L294.10 114.25 L294.60 114.19 L295.10 114.20 L295.60 114.26 L296.10 114.35 L296.60 114.41 L297.10 114.45 L297.60 114.41 L298.10 114.38 L298.60 114.27 L299.10 114.32 L299.60 114.31 L300.10 114.27 L300.60 114.35 L301.10 114.27 L301.60 114.20 L302.10 114.16 L302.60 114.14 L303.10 114.21 L303.60 114.29 L304.10 114.21 L304.60 114.23 L305.10 114.25 L305.60 114.26 L306.10 114.24 L306.60 114.25 L307.10 114.15 L307.60 114.09 L308.10 114.12 L308.60 114.10 L309.10 114.18 L309.60 114.11 L310.10 114.17 L310.60 114.06 L311.10 113.90 L311.60 113.76 L312.10 113.42 L312.60 112.84 L313.10 112.13 L313.60 111.30 L313.75 111.19 L313.88 111.11 L314.00 111.09 L314.10 111.11 L314.12 111.11 L314.25 111.19 L314.60 111.61 L315.10 112.36 L315.60 113.03 L316.10 113.53 L316.60 113.76 L317.10 113.98 L317.60 114.06 L318.10 114.08 L318.60 114.14 L319.10 114.26 L319.60 114.20 L320.10 114.15 L320.60 114.15 L321.10 114.15 L321.60 114.27 L322.10 114.30 L322.60 114.27 L323.10 114.20 L323.60 114.13 L324.10 114.11 L324.60 114.23 L325.10 114.27 L325.60 114.19 L326.10 114.24 L326.60 114.15 L327.10 114.18 L327.60 114.17 L328.10 114.10 L328.60 114.18 L329.10 114.20 L329.60 114.14 L330.10 114.01 L330.60 113.97 L331.10 113.85 L331.60 113.75 L332.10 113.54 L332.60 113.55 L333.00 113.41 L333.10 113.39 L333.60 113.47 L334.10 113.55 L334.60 113.64 L335.10 113.86 L335.60 114.08 L336.10 114.10 L336.60 114.11 L337.10 114.20 L337.60 114.16 L338.10 114.18 L338.60 114.25 L339.10 114.24 L339.60 114.18 L340.10 114.13 L340.60 114.19 L341.10 114.32 L341.60 114.38 L342.10 114.26 L342.60 114.27 L343.10 114.27 L343.60 114.21 L344.10 114.27 L344.60 114.27 L345.10 114.33 L345.60 114.27 L346.10 114.36 L346.60 114.39 L347.10 114.34 L347.60 114.25 L348.10 114.26 L348.60 114.19 L349.10 114.26 L349.60 114.31 L350.10 114.31 L350.60 114.39 L351.10 114.26 L351.60 114.31 L352.10 114.35 L352.60 114.25 L353.10 114.23 L353.60 114.16 L354.10 114.22 L354.60 114.29 L355.10 114.25 L355.60 114.30 L356.10 114.27 L356.60 114.31 L357.10 114.25 L357.60 114.35 L358.10 114.31 L358.60 114.20 L359.10 114.15 L359.60 114.24 L360.10 114.32 L360.60 114.33 L361.10 114.24 L361.60 114.32 L362.10 114.34 L362.60 114.24 L363.10 114.22 L363.60 114.27 L364.10 114.17 L364.60 114.12 L365.10 114.15 L365.60 114.26 L366.10 114.35 L366.60 114.28 L367.10 114.34 L367.60 114.36 L368.10 114.38 L368.60 114.34 L369.10 114.39 L369.60 114.35 L370.10 114.39 L370.60 114.34 L371.10 114.23 L371.60 114.23 L372.10 114.22 L372.60 114.18 L373.10 114.16 L373.60 114.17 L374.10 114.19 L374.60 114.12 L375.10 114.09 L375.60 114.11 L376.10 114.11 L376.60 114.09 L377.10 114.11 L377.60 114.02 L378.10 114.02 L378.60 113.95 L379.10 113.98 L379.60 113.96 L380.10 113.93 L380.60 113.81 L381.10 113.63 L381.60 113.56 L382.10 113.28 L382.60 112.80 L383.10 111.90 L383.60 110.30 L384.10 107.51 L384.60 103.48 L385.10 98.89 L385.55 95.83 L385.60 95.64 L385.68 95.42 L385.80 95.30 L385.92 95.42 L386.05 95.83 L386.10 96.05 L386.60 99.78 L387.10 104.37 L387.60 108.17 L388.10 110.71 L388.60 112.19 L389.10 112.96 L389.60 113.36 L390.10 113.59 L390.60 113.67 L391.10 113.69 L391.60 113.78 L392.10 113.79 L392.60 113.98 L393.10 114.02 L393.60 114.09 L394.10 114.19 L394.60 114.23 L395.10 114.14 L395.60 114.12 L396.10 114.07 L396.60 114.17 L397.10 114.23 L397.60 114.21 L398.10 114.19 L398.60 114.15 L399.10 114.18 L399.60 114.24 L400.10 114.31 L400.60 114.35 L401.10 114.37 L401.60 114.31 L402.10 114.27 L402.60 114.22 L403.10 114.33 L403.60 114.24 L404.10 114.18 L404.60 114.17 L405.10 114.28 L405.60 114.34 L406.10 114.28 L406.60 114.34 L407.10 114.39 L407.60 114.32 L408.10 114.24 L408.60 114.31 L409.10 114.27 L409.60 114.20 L410.10 114.30 L410.60 114.28 L411.10 114.26 L411.60 114.28 L412.10 114.23 L412.60 114.16 L413.10 114.18 L413.60 114.20 L414.10 114.14 L414.60 114.17 L415.10 114.26 L415.60 114.24 L416.10 114.29 L416.60 114.31 L417.10 114.24 L417.60 114.16 L418.10 114.24 L418.60 114.28 L419.10 114.24 L419.60 114.20 L420.10 114.30 L420.60 114.37 L421.10 114.29 L421.60 114.30 L422.10 114.31 L422.60 114.26 L423.10 114.18 L423.60 114.19 L424.10 114.26 L424.60 114.29 L425.10 114.29 L425.60 114.21 L426.10 114.19 L426.60 114.19 L427.10 114.21 L427.60 114.21 L428.10 114.32 L428.60 114.23 L429.10 114.35 L429.60 114.27 L430.10 114.35 L430.60 114.27 L431.10 114.29 L431.60 114.27 L432.10 114.18 L432.60 114.28 L433.10 114.34 L433.60 114.27 L434.10 114.33 L434.60 114.31 L435.10 114.39 L435.60 114.26 L436.10 114.25 L436.60 114.21 L437.10 114.26 L437.60 114.32 L438.10 114.37 L438.60 114.34 L439.10 114.29 L439.60 114.34 L440.10 114.24 L440.60 114.20 L441.10 114.28 L441.60 114.26 L442.10 114.35 L442.60 114.24 L443.10 114.23 L443.60 114.18 L444.10 114.11 L444.60 114.08 L445.10 114.05 L445.60 114.09 L446.10 114.11 L446.60 114.13 L447.10 114.09 L447.60 114.12 L448.10 114.06 L448.60 114.03 L449.10 113.72 L449.60 113.40 L450.10 112.94 L450.60 112.38 L451.10 111.99 L451.50 111.77 L451.60 111.86 L452.10 112.11 L452.60 112.59 L453.10 113.15 L453.60 113.57 L454.10 113.79 L454.60 113.89 L455.10 114.11 L455.60 114.13 L456.10 114.09 L456.60 114.18 L457.10 114.21 L457.60 114.19 L458.10 114.18 L458.60 114.28 L459.10 114.24 L459.60 114.23 L460.10 114.33 L460.60 114.28 L461.10 114.26 L461.60 114.20 L462.10 114.26 L462.60 114.30 L463.10 114.28 L463.60 114.26 L464.10 114.22 L464.60 114.30 L465.10 114.28 L465.60 114.35 L466.10 114.30 L466.60 114.34 L467.10 114.23 L467.60 114.20 L468.10 114.32 L468.60 114.34 L469.10 114.35 L469.60 114.33 L470.10 114.31 L470.60 114.24 L471.10 114.20 L471.60 114.26 L472.10 114.31 L472.60 114.25 L473.10 114.30 L473.60 114.22 L474.10 114.27 L474.60 114.22 L475.10 114.25 L475.60 114.23 L476.10 114.26 L476.60 114.20 L477.10 114.23 L477.60 114.28 L478.10 114.21 L478.60 114.21 L479.10 114.28 L479.60 114.29 L480.10 114.31 L480.60 114.36 L481.10 114.34 L481.60 114.27 L482.10 114.27 L482.60 114.34 L483.10 114.33 L483.60 114.36 L484.10 114.31 L484.60 114.29 L485.10 114.38 L485.60 114.41 L486.10 114.39 L486.60 114.27 L487.10 114.30 L487.60 114.21 L488.10 114.32 L488.60 114.40 L489.10 114.40 L489.60 114.31 L490.10 114.37 L490.60 114.27 L491.10 114.34 L491.60 114.32 L492.10 114.22 L492.60 114.32 L493.10 114.29 L493.60 114.35 L494.10 114.36 L494.60 114.34 L495.10 114.39 L495.60 114.29 L496.10 114.36 L496.60 114.30 L497.10 114.20 L497.60 114.20 L498.10 114.15 L498.60 114.12 L499.10 114.20 L499.60 114.16 L500.10 114.14 L500.60 114.15 L501.10 114.16 L501.60 114.28 L502.10 114.35 L502.60 114.38 L503.10 114.43 L503.60 114.35 L504.10 114.36 L504.60 114.27 L505.10 114.34 L505.60 114.35 L506.10 114.34 L506.60 114.24 L507.10 114.14 L507.60 114.23 L508.10 114.20 L508.60 114.18 L509.10 114.19 L509.60 114.02 L510.10 113.97 L510.60 113.84 L511.10 113.75 L511.60 113.54 L512.10 113.28 L512.60 113.19 L513.10 112.94 L513.60 112.87 L514.00 112.89 L514.10 112.81 L514.60 112.91 L515.10 113.02 L515.60 113.15 L516.10 113.31 L516.60 113.62 L517.10 113.74 L517.60 113.88 L518.10 113.98 L518.60 113.96 L519.10 114.11 L519.60 114.19 L520.10 114.28 L520.60 114.23 L521.10 114.18 L521.60 114.17 L522.10 114.25 L522.60 114.28 L523.10 114.25 L523.60 114.26 L524.10 114.19 L524.60 114.30 L525.10 114.28 L525.60 114.28 L526.10 114.33 L526.60 114.25 L527.10 114.30 L527.60 114.26 L528.10 114.33 L528.60 114.23 L529.10 114.21 L529.60 114.26 L530.10 114.27 L530.60 114.25 L531.10 114.28 L531.60 114.23 L532.10 114.24 L532.60 114.16 L533.10 114.27 L533.60 114.23 L534.10 114.32 L534.60 114.32 L535.10 114.32 L535.60 114.33 L536.10 114.24" fill="none" stroke="#9a72b6" stroke-width="1.45" stroke-linejoin="round" stroke-linecap="round"/>
<path d="M82.60 3.05 V345.35 M537.10 3.05 V345.35" stroke="#000" stroke-width="2.3" fill="none"/>
<path d="M81.45 4.00 H538.25 M81.45 344.40 H538.25" stroke="#000" stroke-width="1.9" fill="none"/>
<line x1="133.1" y1="344.4" x2="133.1" y2="336.9" stroke="#000" stroke-width="2"/>
<line x1="234.1" y1="344.4" x2="234.1" y2="336.9" stroke="#000" stroke-width="2"/>
<line x1="335.1" y1="344.4" x2="335.1" y2="336.9" stroke="#000" stroke-width="2"/>
<line x1="436.1" y1="344.4" x2="436.1" y2="336.9" stroke="#000" stroke-width="2"/>
<text x="119.50" y="366.00" font-size="23.4" letter-spacing="-0.095" xml:space="preserve">20</text>
<text x="222.00" y="366.00" font-size="23.4" letter-spacing="-1.395" xml:space="preserve">40</text>
<text x="323.00" y="366.00" font-size="23.4" letter-spacing="0.005" xml:space="preserve">60</text>
<text x="425.30" y="366.00" font-size="23.4" letter-spacing="-1.995" xml:space="preserve">80</text>
<text x="521.80" y="366.00" font-size="23.4" letter-spacing="-1.445" xml:space="preserve">100</text>
<text x="301.40" y="389" font-size="23" letter-spacing="-0.473">2<tspan font-style="italic">θ</tspan>/(°)</text>
<text transform="translate(72.20,249.60) rotate(-90)" x="0.00" y="0" font-size="22.7" letter-spacing="-0.509" xml:space="preserve">Intensity (a. u.)</text>
<path d="M115.1 16.2 L119.9 22.5 L115.1 28.8 L110.3 22.5 Z" fill="#000" stroke="#000" stroke-width="1.1"/>
<path d="M116.3 38.0 L120.5 43.8 L116.3 49.5 L112.0 43.8 Z" fill="#fff" stroke="#000" stroke-width="1.1"/>
<circle cx="113.9" cy="62.7" r="3.0" fill="#000" stroke="#000" stroke-width="1"/>
<circle cx="112.5" cy="85.0" r="2.0" fill="#fff" stroke="#000" stroke-width="1.3"/>
<text x="122.90" y="23.50" font-size="17.2" letter-spacing="-0.183" xml:space="preserve">a-Ta</text>
<text x="123.00" y="44.80" font-size="17.2" letter-spacing="-0.255" xml:space="preserve">β-Ta</text>
<text x="124.00" y="65.00" font-size="17.2" letter-spacing="-0.249" xml:space="preserve">a-Ti</text>
<text x="124.20" y="87.00" font-size="17.2" letter-spacing="-0.321" xml:space="preserve">β-Ti</text>
<path d="M200.5 98.5 L204.5 104.0 L200.5 109.5 L196.5 104.0 Z" fill="#fff" stroke="#000" stroke-width="1.1"/>
<path d="M227.3 31.4 L232.1 37.5 L227.3 43.6 L222.5 37.5 Z" fill="#000" stroke="#000" stroke-width="1.1"/>
<path d="M314.3 96.3 L319.1 102.5 L314.3 108.7 L309.5 102.5 Z" fill="#000" stroke="#000" stroke-width="1.1"/>
<path d="M383.3 51.1 L388.1 57.3 L383.3 63.4 L378.5 57.3 Z" fill="#000" stroke="#000" stroke-width="1.1"/>
<path d="M451.8 96.8 L456.6 103.0 L451.8 109.2 L447.0 103.0 Z" fill="#000" stroke="#000" stroke-width="1.1"/>
<path d="M514.6 97.2 L519.4 103.5 L514.6 109.8 L509.8 103.5 Z" fill="#000" stroke="#000" stroke-width="1.1"/>
<path d="M389.6 84.6 L393.3 90 L388.3 96.3 L384.5 90.6 Z" fill="#fff" stroke="#000" stroke-width="1.2"/>
<path d="M412.6 72.2 L396 83.5" stroke="#000" stroke-width="1.3" fill="none"/>
<path d="M391 86.6 L398.2 77.2 L399.6 82.8 L403.8 85.6 Z" fill="#000"/>
<text transform="translate(204.60,96.00) rotate(-90)" x="0.00" y="0" font-size="16.5" letter-spacing="-0.068" xml:space="preserve">(002)β</text>
<text transform="translate(248.00,51.00) rotate(-90)" x="0.00" y="0" font-size="16.5" letter-spacing="-0.385" xml:space="preserve">(110)a</text>
<text transform="translate(320.70,92.40) rotate(-90)" x="0.00" y="0" font-size="16.5" letter-spacing="-0.068" xml:space="preserve">(200)a</text>
<text transform="translate(389.20,49.60) rotate(-90)" x="0.00" y="0" font-size="16.5" letter-spacing="-0.225" xml:space="preserve">(211)a</text>
<text transform="translate(417.80,69.60) rotate(-90)" x="0.00" y="0" font-size="16.5" letter-spacing="-0.148" xml:space="preserve">(513)β</text>
<text transform="translate(458.00,93.80) rotate(-90)" x="0.00" y="0" font-size="16.5" letter-spacing="0.012" xml:space="preserve">(220)a</text>
<text transform="translate(519.80,94.60) rotate(-90)" x="0.00" y="0" font-size="16.5" letter-spacing="-0.188" xml:space="preserve">(310)a</text>
<text y="131.20" font-size="16.5" xml:space="preserve"><tspan x="390.50" letter-spacing="-0.199">TC4/Ta4.3 μm/850</tspan><tspan x="514.50" font-size="15.5" style="font-family:'Liberation Serif','IPAGothic',serif"> </tspan><tspan x="518.50" font-size="15.5" style="font-family:'Liberation Serif','IPAGothic',serif">℃</tspan></text>
<text y="171.50" font-size="16.5" xml:space="preserve"><tspan x="387.80" letter-spacing="-0.152">TC4/Ta4.3 μm/750</tspan><tspan x="513.80" font-size="15.5" style="font-family:'Liberation Serif','IPAGothic',serif"> </tspan><tspan x="517.80" font-size="15.5" style="font-family:'Liberation Serif','IPAGothic',serif">℃</tspan></text>
<text y="214.30" font-size="16.5" xml:space="preserve"><tspan x="388.50" letter-spacing="-0.152">TC4/Ta4.3 μm/650</tspan><tspan x="513.80" font-size="15.5" style="font-family:'Liberation Serif','IPAGothic',serif"> </tspan><tspan x="517.80" font-size="15.5" style="font-family:'Liberation Serif','IPAGothic',serif">℃</tspan></text>
<text x="436.70" y="255.50" font-size="16.5" letter-spacing="-0.070" xml:space="preserve">TC4/Ta4.3 μm</text>
<text x="504.60" y="333.80" font-size="16.5" letter-spacing="-0.942" xml:space="preserve">TC4</text>
<circle cx="210.7" cy="300.6" r="2.8" fill="#000" stroke="#000" stroke-width="1"/>
<circle cx="225.9" cy="303.9" r="2.8" fill="#000" stroke="#000" stroke-width="1"/>
<circle cx="236.3" cy="278.0" r="2.8" fill="#000" stroke="#000" stroke-width="1"/>
<circle cx="301.3" cy="313.7" r="2.8" fill="#000" stroke="#000" stroke-width="1"/>
<circle cx="353.0" cy="313.7" r="2.8" fill="#000" stroke="#000" stroke-width="1"/>
<circle cx="390.4" cy="313.7" r="2.8" fill="#000" stroke="#000" stroke-width="1"/>
<circle cx="408.5" cy="313.2" r="2.8" fill="#000" stroke="#000" stroke-width="1"/>
<circle cx="417.0" cy="313.2" r="2.8" fill="#000" stroke="#000" stroke-width="1"/>
<circle cx="425.5" cy="311.2" r="2.8" fill="#000" stroke="#000" stroke-width="1"/>
<circle cx="449.3" cy="313.7" r="2.8" fill="#000" stroke="#000" stroke-width="1"/>
<circle cx="473.8" cy="314.0" r="2.8" fill="#000" stroke="#000" stroke-width="1"/>
<circle cx="230.5" cy="311.8" r="1.8" fill="#fff" stroke="#000" stroke-width="0.8"/>
<circle cx="233.8" cy="312.7" r="1.6" fill="#fff" stroke="#000" stroke-width="0.8"/>
<path d="M254.5 300.5 L240 307.3" stroke="#000" stroke-width="1.3" fill="none"/>
<path d="M235.2 309.6 L239.3 304.6 L240.5 307 L242 309.9 Z" fill="#000" stroke="#000" stroke-width="0.4"/>
<text transform="translate(214.00,295.00) rotate(-90)" x="0.00" y="0" font-size="14" letter-spacing="-0.365" xml:space="preserve">(100)a</text>
<text transform="translate(231.00,300.00) rotate(-90)" x="0.00" y="0" font-size="14" letter-spacing="-0.365" xml:space="preserve">(002)a</text>
<text transform="translate(243.20,275.00) rotate(-90)" x="0.00" y="0" font-size="12.5" letter-spacing="-1.075" xml:space="preserve">(101)a</text>
<text transform="translate(262.80,299.50) rotate(-90)" x="0.00" y="0" font-size="14" letter-spacing="-0.461" xml:space="preserve">(110)β</text>
<text transform="translate(306.50,307.60) rotate(-90)" x="0.00" y="0" font-size="14" letter-spacing="-0.345" xml:space="preserve">(102)a</text>
<text transform="translate(357.80,307.60) rotate(-90)" x="0.00" y="0" font-size="14" letter-spacing="-0.341" xml:space="preserve">(110)a</text>
<text transform="translate(392.50,307.00) rotate(-90)" x="0.00" y="0" font-size="14" letter-spacing="-0.465" xml:space="preserve">(103)a</text>
<text transform="translate(412.30,306.50) rotate(-90)" x="0.00" y="0" font-size="14" letter-spacing="-0.565" xml:space="preserve">(020)a</text>
<text transform="translate(421.30,306.50) rotate(-90)" x="0.00" y="0" font-size="14" letter-spacing="-0.461" xml:space="preserve">(112)a</text>
<text transform="translate(434.70,304.50) rotate(-90)" x="0.00" y="0" font-size="14" letter-spacing="-0.365" xml:space="preserve">(201)a</text>
<text transform="translate(453.50,307.00) rotate(-90)" x="0.00" y="0" font-size="14" letter-spacing="-0.465" xml:space="preserve">(004)a</text>
<text transform="translate(477.50,307.00) rotate(-90)" x="0.00" y="0" font-size="14" letter-spacing="-0.465" xml:space="preserve">(022)a</text>
<text xml:space="preserve" style="stroke-width:0.15px"><tspan x="74.50" y="435.70" font-size="22.3" letter-spacing="0.000">图 </tspan><tspan x="105.90" y="436.00" font-size="24" letter-spacing="0.000">3 </tspan><tspan x="144.50" y="436.00" font-size="24" letter-spacing="0.050">4.3 </tspan><tspan x="182.60" y="436.00" font-size="24" letter-spacing="0.233">μm </tspan><tspan x="221.50" y="436.00" font-size="24" letter-spacing="1.916">Ta </tspan><tspan x="253.80" y="435.70" font-size="22.3" letter-spacing="2.943">涂覆和未涂覆 </tspan><tspan x="411.00" y="436.00" font-size="24" letter-spacing="0.416">TC4 </tspan><tspan x="462.00" y="435.70" font-size="22.3" letter-spacing="2.203">试样在</tspan></text>
<text xml:space="preserve" style="stroke-width:0.15px"><tspan x="135.50" y="469.80" font-size="22.3" letter-spacing="2.641">不同热处理温度下的 </tspan><tspan x="366.00" y="470.00" font-size="24" letter-spacing="-0.670">XRD </tspan><tspan x="423.50" y="469.80" font-size="22.3" letter-spacing="5.203">图谱</tspan></text>
<text x="5.50" y="500.80" font-size="24.5" letter-spacing="0.314" xml:space="preserve" style="stroke-width:0.15px">Fig.3 XRD patterns of 4.3 μm Ta-coated and uncoated TC4</text>
<text x="66.50" y="525.80" font-size="24.5" letter-spacing="0.310" xml:space="preserve" style="stroke-width:0.15px">samples at different heat treatment temperature</text>
</svg></body></html>
